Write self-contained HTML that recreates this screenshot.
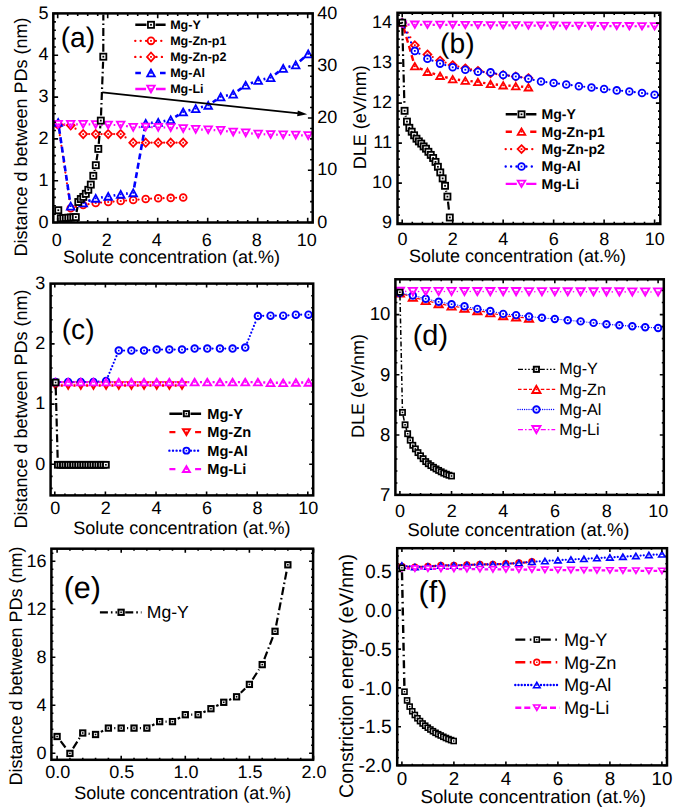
<!DOCTYPE html>
<html><head><meta charset="utf-8"><style>
html,body{margin:0;padding:0;background:#fff;}
svg{display:block;}
text{font-family:"Liberation Sans", sans-serif;text-rendering:geometricPrecision;}
</style></head><body>
<svg width="685" height="808" viewBox="0 0 685 808">
<rect width="685" height="808" fill="#fff"/>
<clipPath id="ca"><rect x="54.3" y="14.4" width="257.4" height="207.1"/></clipPath>
<path d="M59 129.84L69.9 202.86M75.93 206.86L77.97 206.34M88.53 204.15L90.37 203.85M101.08 202.57L102.82 202.43M113.58 201.57L115.32 201.43M126.08 200.57L127.82 200.43M138.58 199.57L140.32 199.43M151.09 198.7L152.81 198.6M163.6 198.13L165.3 198.07M176.1 197.73L177.8 197.67" fill="none" stroke="#ff0000" stroke-width="2.2" stroke-dasharray="0 5.4" stroke-linecap="round"/>
<circle cx="58.2" cy="124.5" r="3.4" fill="#fff" stroke="#ff0000" stroke-width="1.8"/>
<rect x="57.3" y="123.6" width="1.8" height="1.8" fill="#ff0000"/>
<circle cx="70.7" cy="208.2" r="3.4" fill="#fff" stroke="#ff0000" stroke-width="1.8"/>
<rect x="69.8" y="207.3" width="1.8" height="1.8" fill="#ff0000"/>
<circle cx="83.2" cy="205" r="3.4" fill="#fff" stroke="#ff0000" stroke-width="1.8"/>
<rect x="82.3" y="204.1" width="1.8" height="1.8" fill="#ff0000"/>
<circle cx="95.7" cy="203" r="3.4" fill="#fff" stroke="#ff0000" stroke-width="1.8"/>
<rect x="94.8" y="202.1" width="1.8" height="1.8" fill="#ff0000"/>
<circle cx="108.2" cy="202" r="3.4" fill="#fff" stroke="#ff0000" stroke-width="1.8"/>
<rect x="107.3" y="201.1" width="1.8" height="1.8" fill="#ff0000"/>
<circle cx="120.7" cy="201" r="3.4" fill="#fff" stroke="#ff0000" stroke-width="1.8"/>
<rect x="119.8" y="200.1" width="1.8" height="1.8" fill="#ff0000"/>
<circle cx="133.2" cy="200" r="3.4" fill="#fff" stroke="#ff0000" stroke-width="1.8"/>
<rect x="132.3" y="199.1" width="1.8" height="1.8" fill="#ff0000"/>
<circle cx="145.7" cy="199" r="3.4" fill="#fff" stroke="#ff0000" stroke-width="1.8"/>
<rect x="144.8" y="198.1" width="1.8" height="1.8" fill="#ff0000"/>
<circle cx="158.2" cy="198.3" r="3.4" fill="#fff" stroke="#ff0000" stroke-width="1.8"/>
<rect x="157.3" y="197.4" width="1.8" height="1.8" fill="#ff0000"/>
<circle cx="170.7" cy="197.9" r="3.4" fill="#fff" stroke="#ff0000" stroke-width="1.8"/>
<rect x="169.8" y="197" width="1.8" height="1.8" fill="#ff0000"/>
<circle cx="183.2" cy="197.5" r="3.4" fill="#fff" stroke="#ff0000" stroke-width="1.8"/>
<rect x="182.3" y="196.6" width="1.8" height="1.8" fill="#ff0000"/>
<path d="M64.09 124.88L64.81 124.92M75.52 128.7L78.38 130.7M89.1 134.1L89.8 134.1M101.6 134.1L102.3 134.1M114.1 134.1L114.8 134.1M125.56 137.44L128.34 139.36M139.1 142.7L139.8 142.7M151.6 142.7L152.3 142.7M164.1 142.7L164.8 142.7M176.6 142.7L177.3 142.7" fill="none" stroke="#ff0000" stroke-width="2.2" stroke-dasharray="0 5.4" stroke-linecap="round"/>
<polygon points="58.2,120.4 62.1,124.5 58.2,128.6 54.3,124.5" fill="#fff" stroke="#ff0000" stroke-width="1.8"/>
<rect x="57.3" y="123.6" width="1.8" height="1.8" fill="#ff0000"/>
<polygon points="70.7,121.2 74.6,125.3 70.7,129.4 66.8,125.3" fill="#fff" stroke="#ff0000" stroke-width="1.8"/>
<rect x="69.8" y="124.4" width="1.8" height="1.8" fill="#ff0000"/>
<polygon points="83.2,130 87.1,134.1 83.2,138.2 79.3,134.1" fill="#fff" stroke="#ff0000" stroke-width="1.8"/>
<rect x="82.3" y="133.2" width="1.8" height="1.8" fill="#ff0000"/>
<polygon points="95.7,130 99.6,134.1 95.7,138.2 91.8,134.1" fill="#fff" stroke="#ff0000" stroke-width="1.8"/>
<rect x="94.8" y="133.2" width="1.8" height="1.8" fill="#ff0000"/>
<polygon points="108.2,130 112.1,134.1 108.2,138.2 104.3,134.1" fill="#fff" stroke="#ff0000" stroke-width="1.8"/>
<rect x="107.3" y="133.2" width="1.8" height="1.8" fill="#ff0000"/>
<polygon points="120.7,130 124.6,134.1 120.7,138.2 116.8,134.1" fill="#fff" stroke="#ff0000" stroke-width="1.8"/>
<rect x="119.8" y="133.2" width="1.8" height="1.8" fill="#ff0000"/>
<polygon points="133.2,138.6 137.1,142.7 133.2,146.8 129.3,142.7" fill="#fff" stroke="#ff0000" stroke-width="1.8"/>
<rect x="132.3" y="141.8" width="1.8" height="1.8" fill="#ff0000"/>
<polygon points="145.7,138.6 149.6,142.7 145.7,146.8 141.8,142.7" fill="#fff" stroke="#ff0000" stroke-width="1.8"/>
<rect x="144.8" y="141.8" width="1.8" height="1.8" fill="#ff0000"/>
<polygon points="158.2,138.6 162.1,142.7 158.2,146.8 154.3,142.7" fill="#fff" stroke="#ff0000" stroke-width="1.8"/>
<rect x="157.3" y="141.8" width="1.8" height="1.8" fill="#ff0000"/>
<polygon points="170.7,138.6 174.6,142.7 170.7,146.8 166.8,142.7" fill="#fff" stroke="#ff0000" stroke-width="1.8"/>
<rect x="169.8" y="141.8" width="1.8" height="1.8" fill="#ff0000"/>
<polygon points="183.2,138.6 187.1,142.7 183.2,146.8 179.3,142.7" fill="#fff" stroke="#ff0000" stroke-width="1.8"/>
<rect x="182.3" y="141.8" width="1.8" height="1.8" fill="#ff0000"/>
<path d="M59.01 127.89L69.89 200.71M75.99 204.79L77.91 204.31M88.3 201.08L90.6 200.22M101.08 197.44L102.82 197.16M113.58 195.44L115.32 195.16M126.11 193.65L127.79 193.45M134.16 187.44L144.74 128.66M151.13 122.87L152.77 122.73M163.54 121.23L165.36 120.87M175.32 116.91L178.58 114.89M188.46 110.57L190.44 110.03M200.97 107.21L202.93 106.69M212.72 102.26L216.18 99.94M226.02 95.71L227.88 95.29M237.64 90.94L241.26 88.36M250.8 83.28L253.1 82.42M263.52 79.31L265.38 78.89M275.07 74.45L278.83 71.65M288.45 66.93L290.45 66.37M299.79 61.3L304.11 57.5" fill="none" stroke="#0000ff" stroke-width="2.6" stroke-dasharray="6 3.5" stroke-linecap="butt"/>
<polygon points="58.2,119.05 54.4,125.95 62,125.95" fill="#fff" stroke="#0000ff" stroke-width="1.8"/>
<rect x="57.3" y="121.6" width="1.8" height="1.8" fill="#0000ff"/>
<polygon points="70.7,202.65 66.9,209.55 74.5,209.55" fill="#fff" stroke="#0000ff" stroke-width="1.8"/>
<rect x="69.8" y="205.2" width="1.8" height="1.8" fill="#0000ff"/>
<polygon points="83.2,199.55 79.4,206.45 87,206.45" fill="#fff" stroke="#0000ff" stroke-width="1.8"/>
<rect x="82.3" y="202.1" width="1.8" height="1.8" fill="#0000ff"/>
<polygon points="95.7,194.85 91.9,201.75 99.5,201.75" fill="#fff" stroke="#0000ff" stroke-width="1.8"/>
<rect x="94.8" y="197.4" width="1.8" height="1.8" fill="#0000ff"/>
<polygon points="108.2,192.85 104.4,199.75 112,199.75" fill="#fff" stroke="#0000ff" stroke-width="1.8"/>
<rect x="107.3" y="195.4" width="1.8" height="1.8" fill="#0000ff"/>
<polygon points="120.7,190.85 116.9,197.75 124.5,197.75" fill="#fff" stroke="#0000ff" stroke-width="1.8"/>
<rect x="119.8" y="193.4" width="1.8" height="1.8" fill="#0000ff"/>
<polygon points="133.2,189.35 129.4,196.25 137,196.25" fill="#fff" stroke="#0000ff" stroke-width="1.8"/>
<rect x="132.3" y="191.9" width="1.8" height="1.8" fill="#0000ff"/>
<polygon points="145.7,119.85 141.9,126.75 149.5,126.75" fill="#fff" stroke="#0000ff" stroke-width="1.8"/>
<rect x="144.8" y="122.4" width="1.8" height="1.8" fill="#0000ff"/>
<polygon points="158.2,118.85 154.4,125.75 162,125.75" fill="#fff" stroke="#0000ff" stroke-width="1.8"/>
<rect x="157.3" y="121.4" width="1.8" height="1.8" fill="#0000ff"/>
<polygon points="170.7,116.35 166.9,123.25 174.5,123.25" fill="#fff" stroke="#0000ff" stroke-width="1.8"/>
<rect x="169.8" y="118.9" width="1.8" height="1.8" fill="#0000ff"/>
<polygon points="183.2,108.55 179.4,115.45 187,115.45" fill="#fff" stroke="#0000ff" stroke-width="1.8"/>
<rect x="182.3" y="111.1" width="1.8" height="1.8" fill="#0000ff"/>
<polygon points="195.7,105.15 191.9,112.05 199.5,112.05" fill="#fff" stroke="#0000ff" stroke-width="1.8"/>
<rect x="194.8" y="107.7" width="1.8" height="1.8" fill="#0000ff"/>
<polygon points="208.2,101.85 204.4,108.75 212,108.75" fill="#fff" stroke="#0000ff" stroke-width="1.8"/>
<rect x="207.3" y="104.4" width="1.8" height="1.8" fill="#0000ff"/>
<polygon points="220.7,93.45 216.9,100.35 224.5,100.35" fill="#fff" stroke="#0000ff" stroke-width="1.8"/>
<rect x="219.8" y="96" width="1.8" height="1.8" fill="#0000ff"/>
<polygon points="233.2,90.65 229.4,97.55 237,97.55" fill="#fff" stroke="#0000ff" stroke-width="1.8"/>
<rect x="232.3" y="93.2" width="1.8" height="1.8" fill="#0000ff"/>
<polygon points="245.7,81.75 241.9,88.65 249.5,88.65" fill="#fff" stroke="#0000ff" stroke-width="1.8"/>
<rect x="244.8" y="84.3" width="1.8" height="1.8" fill="#0000ff"/>
<polygon points="258.2,77.05 254.4,83.95 262,83.95" fill="#fff" stroke="#0000ff" stroke-width="1.8"/>
<rect x="257.3" y="79.6" width="1.8" height="1.8" fill="#0000ff"/>
<polygon points="270.7,74.25 266.9,81.15 274.5,81.15" fill="#fff" stroke="#0000ff" stroke-width="1.8"/>
<rect x="269.8" y="76.8" width="1.8" height="1.8" fill="#0000ff"/>
<polygon points="283.2,64.95 279.4,71.85 287,71.85" fill="#fff" stroke="#0000ff" stroke-width="1.8"/>
<rect x="282.3" y="67.5" width="1.8" height="1.8" fill="#0000ff"/>
<polygon points="295.7,61.45 291.9,68.35 299.5,68.35" fill="#fff" stroke="#0000ff" stroke-width="1.8"/>
<rect x="294.8" y="64" width="1.8" height="1.8" fill="#0000ff"/>
<polygon points="308.2,50.45 304.4,57.35 312,57.35" fill="#fff" stroke="#0000ff" stroke-width="1.8"/>
<rect x="307.3" y="53" width="1.8" height="1.8" fill="#0000ff"/>
<path d="M63.65 124.3L65.25 124.3M76.15 124.3L77.75 124.3M88.65 124.39L90.25 124.41M101.15 124.72L102.75 124.78M113.65 125L115.25 125M126.05 126.03L127.85 126.37M138.65 127.23L140.25 127.17M151.15 127.17L152.75 127.23M163.65 127.49L165.25 127.51M176.13 128.03L177.77 128.17M188.64 128.95L190.26 129.05M201.15 129.57L202.75 129.63M213.64 130.06L215.26 130.14M226.1 131.13L227.8 131.37M238.64 132.45L240.26 132.55M251.13 133.42L252.77 133.58M263.65 134.27L265.25 134.33M276.15 134.67L277.75 134.73M288.65 134.99L290.25 135.01M301.15 135.32L302.75 135.38" fill="none" stroke="#ff00ff" stroke-width="2.2" stroke-linecap="butt"/>
<polygon points="58.2,127.75 54.4,120.85 62,120.85" fill="#fff" stroke="#ff00ff" stroke-width="1.8"/>
<rect x="57.3" y="123.4" width="1.8" height="1.8" fill="#ff00ff"/>
<polygon points="70.7,127.75 66.9,120.85 74.5,120.85" fill="#fff" stroke="#ff00ff" stroke-width="1.8"/>
<rect x="69.8" y="123.4" width="1.8" height="1.8" fill="#ff00ff"/>
<polygon points="83.2,127.75 79.4,120.85 87,120.85" fill="#fff" stroke="#ff00ff" stroke-width="1.8"/>
<rect x="82.3" y="123.4" width="1.8" height="1.8" fill="#ff00ff"/>
<polygon points="95.7,127.95 91.9,121.05 99.5,121.05" fill="#fff" stroke="#ff00ff" stroke-width="1.8"/>
<rect x="94.8" y="123.6" width="1.8" height="1.8" fill="#ff00ff"/>
<polygon points="108.2,128.45 104.4,121.55 112,121.55" fill="#fff" stroke="#ff00ff" stroke-width="1.8"/>
<rect x="107.3" y="124.1" width="1.8" height="1.8" fill="#ff00ff"/>
<polygon points="120.7,128.45 116.9,121.55 124.5,121.55" fill="#fff" stroke="#ff00ff" stroke-width="1.8"/>
<rect x="119.8" y="124.1" width="1.8" height="1.8" fill="#ff00ff"/>
<polygon points="133.2,130.85 129.4,123.95 137,123.95" fill="#fff" stroke="#ff00ff" stroke-width="1.8"/>
<rect x="132.3" y="126.5" width="1.8" height="1.8" fill="#ff00ff"/>
<polygon points="145.7,130.45 141.9,123.55 149.5,123.55" fill="#fff" stroke="#ff00ff" stroke-width="1.8"/>
<rect x="144.8" y="126.1" width="1.8" height="1.8" fill="#ff00ff"/>
<polygon points="158.2,130.85 154.4,123.95 162,123.95" fill="#fff" stroke="#ff00ff" stroke-width="1.8"/>
<rect x="157.3" y="126.5" width="1.8" height="1.8" fill="#ff00ff"/>
<polygon points="170.7,131.05 166.9,124.15 174.5,124.15" fill="#fff" stroke="#ff00ff" stroke-width="1.8"/>
<rect x="169.8" y="126.7" width="1.8" height="1.8" fill="#ff00ff"/>
<polygon points="183.2,132.05 179.4,125.15 187,125.15" fill="#fff" stroke="#ff00ff" stroke-width="1.8"/>
<rect x="182.3" y="127.7" width="1.8" height="1.8" fill="#ff00ff"/>
<polygon points="195.7,132.85 191.9,125.95 199.5,125.95" fill="#fff" stroke="#ff00ff" stroke-width="1.8"/>
<rect x="194.8" y="128.5" width="1.8" height="1.8" fill="#ff00ff"/>
<polygon points="208.2,133.25 204.4,126.35 212,126.35" fill="#fff" stroke="#ff00ff" stroke-width="1.8"/>
<rect x="207.3" y="128.9" width="1.8" height="1.8" fill="#ff00ff"/>
<polygon points="220.7,133.85 216.9,126.95 224.5,126.95" fill="#fff" stroke="#ff00ff" stroke-width="1.8"/>
<rect x="219.8" y="129.5" width="1.8" height="1.8" fill="#ff00ff"/>
<polygon points="233.2,135.55 229.4,128.65 237,128.65" fill="#fff" stroke="#ff00ff" stroke-width="1.8"/>
<rect x="232.3" y="131.2" width="1.8" height="1.8" fill="#ff00ff"/>
<polygon points="245.7,136.35 241.9,129.45 249.5,129.45" fill="#fff" stroke="#ff00ff" stroke-width="1.8"/>
<rect x="244.8" y="132" width="1.8" height="1.8" fill="#ff00ff"/>
<polygon points="258.2,137.55 254.4,130.65 262,130.65" fill="#fff" stroke="#ff00ff" stroke-width="1.8"/>
<rect x="257.3" y="133.2" width="1.8" height="1.8" fill="#ff00ff"/>
<polygon points="270.7,137.95 266.9,131.05 274.5,131.05" fill="#fff" stroke="#ff00ff" stroke-width="1.8"/>
<rect x="269.8" y="133.6" width="1.8" height="1.8" fill="#ff00ff"/>
<polygon points="283.2,138.35 279.4,131.45 287,131.45" fill="#fff" stroke="#ff00ff" stroke-width="1.8"/>
<rect x="282.3" y="134" width="1.8" height="1.8" fill="#ff00ff"/>
<polygon points="295.7,138.55 291.9,131.65 299.5,131.65" fill="#fff" stroke="#ff00ff" stroke-width="1.8"/>
<rect x="294.8" y="134.2" width="1.8" height="1.8" fill="#ff00ff"/>
<polygon points="308.2,139.05 304.4,132.15 312,132.15" fill="#fff" stroke="#ff00ff" stroke-width="1.8"/>
<rect x="307.3" y="134.7" width="1.8" height="1.8" fill="#ff00ff"/>
<path d="M76.62 212.12L77.48 206.98M94.46 170.88L94.64 170.12M96.57 160.21L97.53 153.89M98.74 143.87L100.36 125.63M101 115.55L103.1 61.75M103.3 51.65L105.8 -2994.95" fill="none" stroke="#000" stroke-width="2.2" stroke-dasharray="8 3 1.6 3" stroke-linecap="butt" clip-path="url(#ca)"/>
<rect x="55.25" y="207.15" width="6.1" height="6.1" fill="#fff" stroke="#000" stroke-width="1.8"/>
<rect x="57.4" y="209.3" width="1.8" height="1.8" fill="#000"/>
<rect x="57.75" y="215.25" width="6.1" height="6.1" fill="#fff" stroke="#000" stroke-width="1.8"/>
<rect x="59.9" y="217.4" width="1.8" height="1.8" fill="#000"/>
<rect x="60.25" y="215.05" width="6.1" height="6.1" fill="#fff" stroke="#000" stroke-width="1.8"/>
<rect x="62.4" y="217.2" width="1.8" height="1.8" fill="#000"/>
<rect x="62.75" y="214.85" width="6.1" height="6.1" fill="#fff" stroke="#000" stroke-width="1.8"/>
<rect x="64.9" y="217" width="1.8" height="1.8" fill="#000"/>
<rect x="65.25" y="214.65" width="6.1" height="6.1" fill="#fff" stroke="#000" stroke-width="1.8"/>
<rect x="67.4" y="216.8" width="1.8" height="1.8" fill="#000"/>
<rect x="67.75" y="214.45" width="6.1" height="6.1" fill="#fff" stroke="#000" stroke-width="1.8"/>
<rect x="69.9" y="216.6" width="1.8" height="1.8" fill="#000"/>
<rect x="70.25" y="214.25" width="6.1" height="6.1" fill="#fff" stroke="#000" stroke-width="1.8"/>
<rect x="72.4" y="216.4" width="1.8" height="1.8" fill="#000"/>
<rect x="72.75" y="214.05" width="6.1" height="6.1" fill="#fff" stroke="#000" stroke-width="1.8"/>
<rect x="74.9" y="216.2" width="1.8" height="1.8" fill="#000"/>
<rect x="75.25" y="198.95" width="6.1" height="6.1" fill="#fff" stroke="#000" stroke-width="1.8"/>
<rect x="77.4" y="201.1" width="1.8" height="1.8" fill="#000"/>
<rect x="77.75" y="195.95" width="6.1" height="6.1" fill="#fff" stroke="#000" stroke-width="1.8"/>
<rect x="79.9" y="198.1" width="1.8" height="1.8" fill="#000"/>
<rect x="80.25" y="193.85" width="6.1" height="6.1" fill="#fff" stroke="#000" stroke-width="1.8"/>
<rect x="82.4" y="196" width="1.8" height="1.8" fill="#000"/>
<rect x="82.75" y="190.75" width="6.1" height="6.1" fill="#fff" stroke="#000" stroke-width="1.8"/>
<rect x="84.9" y="192.9" width="1.8" height="1.8" fill="#000"/>
<rect x="85.25" y="186.75" width="6.1" height="6.1" fill="#fff" stroke="#000" stroke-width="1.8"/>
<rect x="87.4" y="188.9" width="1.8" height="1.8" fill="#000"/>
<rect x="87.75" y="181.55" width="6.1" height="6.1" fill="#fff" stroke="#000" stroke-width="1.8"/>
<rect x="89.9" y="183.7" width="1.8" height="1.8" fill="#000"/>
<rect x="90.25" y="172.75" width="6.1" height="6.1" fill="#fff" stroke="#000" stroke-width="1.8"/>
<rect x="92.4" y="174.9" width="1.8" height="1.8" fill="#000"/>
<rect x="92.75" y="162.15" width="6.1" height="6.1" fill="#fff" stroke="#000" stroke-width="1.8"/>
<rect x="94.9" y="164.3" width="1.8" height="1.8" fill="#000"/>
<rect x="95.25" y="145.85" width="6.1" height="6.1" fill="#fff" stroke="#000" stroke-width="1.8"/>
<rect x="97.4" y="148" width="1.8" height="1.8" fill="#000"/>
<rect x="97.75" y="117.55" width="6.1" height="6.1" fill="#fff" stroke="#000" stroke-width="1.8"/>
<rect x="99.9" y="119.7" width="1.8" height="1.8" fill="#000"/>
<rect x="100.25" y="53.65" width="6.1" height="6.1" fill="#fff" stroke="#000" stroke-width="1.8"/>
<rect x="102.4" y="55.8" width="1.8" height="1.8" fill="#000"/>
<line x1="102.3" y1="92.3" x2="299" y2="113.4" stroke="#000" stroke-width="1.7"/>
<polygon points="307.2,114.3 297.8,110.4 297.2,116.2" fill="#000"/>
<rect x="53.3" y="13.4" width="259.4" height="209.1" fill="none" stroke="#000" stroke-width="2.5"/>
<path d="M57.7 222.5v-4.8M57.7 13.4v4.8M107.7 222.5v-4.8M107.7 13.4v4.8M157.7 222.5v-4.8M157.7 13.4v4.8M207.7 222.5v-4.8M207.7 13.4v4.8M257.7 222.5v-4.8M257.7 13.4v4.8M307.7 222.5v-4.8M307.7 13.4v4.8M67.7 222.5v-2.6M67.7 13.4v2.6M77.7 222.5v-2.6M77.7 13.4v2.6M87.7 222.5v-2.6M87.7 13.4v2.6M97.7 222.5v-2.6M97.7 13.4v2.6M117.7 222.5v-2.6M117.7 13.4v2.6M127.7 222.5v-2.6M127.7 13.4v2.6M137.7 222.5v-2.6M137.7 13.4v2.6M147.7 222.5v-2.6M147.7 13.4v2.6M167.7 222.5v-2.6M167.7 13.4v2.6M177.7 222.5v-2.6M177.7 13.4v2.6M187.7 222.5v-2.6M187.7 13.4v2.6M197.7 222.5v-2.6M197.7 13.4v2.6M217.7 222.5v-2.6M217.7 13.4v2.6M227.7 222.5v-2.6M227.7 13.4v2.6M237.7 222.5v-2.6M237.7 13.4v2.6M247.7 222.5v-2.6M247.7 13.4v2.6M267.7 222.5v-2.6M267.7 13.4v2.6M277.7 222.5v-2.6M277.7 13.4v2.6M287.7 222.5v-2.6M287.7 13.4v2.6M297.7 222.5v-2.6M297.7 13.4v2.6M53.3 222.5h4.8M53.3 180.7h4.8M53.3 138.9h4.8M53.3 97.1h4.8M53.3 55.3h4.8M53.3 13.5h4.8M53.3 214.14h2.6M53.3 205.78h2.6M53.3 197.42h2.6M53.3 189.06h2.6M53.3 172.34h2.6M53.3 163.98h2.6M53.3 155.62h2.6M53.3 147.26h2.6M53.3 130.54h2.6M53.3 122.18h2.6M53.3 113.82h2.6M53.3 105.46h2.6M53.3 88.74h2.6M53.3 80.38h2.6M53.3 72.02h2.6M53.3 63.66h2.6M53.3 46.94h2.6M53.3 38.58h2.6M53.3 30.22h2.6M53.3 21.86h2.6M312.7 222.5h-4.8M312.7 170.25h-4.8M312.7 118h-4.8M312.7 65.75h-4.8M312.7 13.5h-4.8M312.7 212.05h-2.6M312.7 201.6h-2.6M312.7 191.15h-2.6M312.7 180.7h-2.6M312.7 159.8h-2.6M312.7 149.35h-2.6M312.7 138.9h-2.6M312.7 128.45h-2.6M312.7 107.55h-2.6M312.7 97.1h-2.6M312.7 86.65h-2.6M312.7 76.2h-2.6M312.7 55.3h-2.6M312.7 44.85h-2.6M312.7 34.4h-2.6M312.7 23.95h-2.6" stroke="#000" stroke-width="1.6" fill="none"/>
<text x="56.7" y="245.7" font-size="18" text-anchor="middle" fill="#000">0</text>
<text x="106.7" y="245.7" font-size="18" text-anchor="middle" fill="#000">2</text>
<text x="156.7" y="245.7" font-size="18" text-anchor="middle" fill="#000">4</text>
<text x="206.7" y="245.7" font-size="18" text-anchor="middle" fill="#000">6</text>
<text x="256.7" y="245.7" font-size="18" text-anchor="middle" fill="#000">8</text>
<text x="306.7" y="245.7" font-size="18" text-anchor="middle" fill="#000">10</text>
<text x="48.5" y="227.6" font-size="18" text-anchor="end" fill="#000">0</text>
<text x="48.5" y="185.8" font-size="18" text-anchor="end" fill="#000">1</text>
<text x="48.5" y="144" font-size="18" text-anchor="end" fill="#000">2</text>
<text x="48.5" y="102.2" font-size="18" text-anchor="end" fill="#000">3</text>
<text x="48.5" y="60.4" font-size="18" text-anchor="end" fill="#000">4</text>
<text x="48.5" y="18.6" font-size="18" text-anchor="end" fill="#000">5</text>
<text x="317.3" y="227.6" font-size="18" text-anchor="start" fill="#000">0</text>
<text x="317.3" y="175.35" font-size="18" text-anchor="start" fill="#000">10</text>
<text x="317.3" y="123.1" font-size="18" text-anchor="start" fill="#000">20</text>
<text x="317.3" y="70.85" font-size="18" text-anchor="start" fill="#000">30</text>
<text x="317.3" y="18.6" font-size="18" text-anchor="start" fill="#000">40</text>
<text x="26.7" y="137" font-size="18" text-anchor="middle" fill="#000" transform="rotate(-90 26.7 137)">Distance d between PDs (nm)</text>
<text x="171.5" y="263.4" font-size="18" text-anchor="middle" fill="#000">Solute concentration (at.%)</text>
<text x="60.7" y="47.2" font-size="28.2" text-anchor="start" fill="#000">(a)</text>
<path d="M135.3 24.8H146.45M155.55 24.8H165.6" fill="none" stroke="#000" stroke-width="2.4" stroke-linecap="butt"/>
<rect x="147.95" y="21.75" width="6.1" height="6.1" fill="#fff" stroke="#000" stroke-width="1.8"/>
<rect x="150.1" y="23.9" width="1.8" height="1.8" fill="#000"/>
<text x="170.2" y="29.1" font-size="12.5" text-anchor="start" font-weight="bold" fill="#000">Mg-Y</text>
<path d="M135.3 40.85H146.1M155.9 40.85H165.6" fill="none" stroke="#ff0000" stroke-width="2.4" stroke-dasharray="0 5.4" stroke-linecap="round"/>
<circle cx="151" cy="40.85" r="3.4" fill="#fff" stroke="#ff0000" stroke-width="1.8"/>
<rect x="150.1" y="39.95" width="1.8" height="1.8" fill="#ff0000"/>
<text x="170.2" y="45.15" font-size="12.5" text-anchor="start" font-weight="bold" fill="#000">Mg-Zn-p1</text>
<path d="M135.3 56.9H145.5M156.5 56.9H165.6" fill="none" stroke="#ff0000" stroke-width="2.4" stroke-dasharray="0 5.4" stroke-linecap="round"/>
<polygon points="151,52.5 155,56.9 151,61.3 147,56.9" fill="#fff" stroke="#ff0000" stroke-width="1.8"/>
<rect x="150.1" y="56" width="1.8" height="1.8" fill="#ff0000"/>
<text x="170.2" y="61.2" font-size="12.5" text-anchor="start" font-weight="bold" fill="#000">Mg-Zn-p2</text>
<path d="M135.3 72.95h5.6M160 72.95H165.6" fill="none" stroke="#0000ff" stroke-width="2.4"/>
<polygon points="151,69.5 147.2,76.4 154.8,76.4" fill="#fff" stroke="#0000ff" stroke-width="1.8"/>
<rect x="150.1" y="72.05" width="1.8" height="1.8" fill="#0000ff"/>
<text x="170.2" y="77.25" font-size="12.5" text-anchor="start" font-weight="bold" fill="#000">Mg-Al</text>
<path d="M135.3 89H146.05M155.95 89H165.6" fill="none" stroke="#ff00ff" stroke-width="2.4" stroke-linecap="butt"/>
<polygon points="151,92.45 147.2,85.55 154.8,85.55" fill="#fff" stroke="#ff00ff" stroke-width="1.8"/>
<rect x="150.1" y="88.1" width="1.8" height="1.8" fill="#ff00ff"/>
<text x="170.2" y="93.3" font-size="12.5" text-anchor="start" font-weight="bold" fill="#000">Mg-Li</text>
<path d="M403.65 27.69L413.37 61.21M419.57 68.31L422.69 69.69M432.4 73.37L435.1 74.23M445.09 77.12L447.65 77.78M457.84 79.71L460.14 79.99M470.47 81.17L472.75 81.43M483.06 82.81L485.4 83.19M495.71 84.53L497.99 84.77M508.35 85.63L510.59 85.77M520.96 86.59L523.22 86.81" fill="none" stroke="#ff0000" stroke-width="2.4" stroke-dasharray="6 3.5" stroke-linecap="butt"/>
<polygon points="402.2,19.5 398.4,25.9 406,25.9" fill="#fff" stroke="#ff0000" stroke-width="1.8"/>
<rect x="401.3" y="21.8" width="1.8" height="1.8" fill="#ff0000"/>
<polygon points="414.82,63 411.02,69.4 418.62,69.4" fill="#fff" stroke="#ff0000" stroke-width="1.8"/>
<rect x="413.92" y="65.3" width="1.8" height="1.8" fill="#ff0000"/>
<polygon points="427.44,68.6 423.64,75 431.24,75" fill="#fff" stroke="#ff0000" stroke-width="1.8"/>
<rect x="426.54" y="70.9" width="1.8" height="1.8" fill="#ff0000"/>
<polygon points="440.06,72.6 436.26,79 443.86,79" fill="#fff" stroke="#ff0000" stroke-width="1.8"/>
<rect x="439.16" y="74.9" width="1.8" height="1.8" fill="#ff0000"/>
<polygon points="452.68,75.9 448.88,82.3 456.48,82.3" fill="#fff" stroke="#ff0000" stroke-width="1.8"/>
<rect x="451.78" y="78.2" width="1.8" height="1.8" fill="#ff0000"/>
<polygon points="465.3,77.4 461.5,83.8 469.1,83.8" fill="#fff" stroke="#ff0000" stroke-width="1.8"/>
<rect x="464.4" y="79.7" width="1.8" height="1.8" fill="#ff0000"/>
<polygon points="477.92,78.8 474.12,85.2 481.72,85.2" fill="#fff" stroke="#ff0000" stroke-width="1.8"/>
<rect x="477.02" y="81.1" width="1.8" height="1.8" fill="#ff0000"/>
<polygon points="490.54,80.8 486.74,87.2 494.34,87.2" fill="#fff" stroke="#ff0000" stroke-width="1.8"/>
<rect x="489.64" y="83.1" width="1.8" height="1.8" fill="#ff0000"/>
<polygon points="503.16,82.1 499.36,88.5 506.96,88.5" fill="#fff" stroke="#ff0000" stroke-width="1.8"/>
<rect x="502.26" y="84.4" width="1.8" height="1.8" fill="#ff0000"/>
<polygon points="515.78,82.9 511.98,89.3 519.58,89.3" fill="#fff" stroke="#ff0000" stroke-width="1.8"/>
<rect x="514.88" y="85.2" width="1.8" height="1.8" fill="#ff0000"/>
<polygon points="528.4,84.1 524.6,90.5 532.2,90.5" fill="#fff" stroke="#ff0000" stroke-width="1.8"/>
<rect x="527.5" y="86.4" width="1.8" height="1.8" fill="#ff0000"/>
<path d="M405.09 27.85L411.93 40.05M419.59 48.68L422.67 50.92M432.74 57L434.76 58M445.62 62.58L447.12 63.12M458.4 66.55L459.58 66.85M471.09 69.45L472.13 69.65M483.71 71.95L484.75 72.15M496.39 74.09L497.31 74.21M509.02 75.7L509.92 75.8M521.63 77.24L522.55 77.36" fill="none" stroke="#ff0000" stroke-width="2.2" stroke-dasharray="0 5.4" stroke-linecap="round"/>
<polygon points="402.2,18.8 406.1,22.7 402.2,26.6 398.3,22.7" fill="#fff" stroke="#ff0000" stroke-width="1.8"/>
<rect x="401.3" y="21.8" width="1.8" height="1.8" fill="#ff0000"/>
<polygon points="414.82,41.3 418.72,45.2 414.82,49.1 410.92,45.2" fill="#fff" stroke="#ff0000" stroke-width="1.8"/>
<rect x="413.92" y="44.3" width="1.8" height="1.8" fill="#ff0000"/>
<polygon points="427.44,50.5 431.34,54.4 427.44,58.3 423.54,54.4" fill="#fff" stroke="#ff0000" stroke-width="1.8"/>
<rect x="426.54" y="53.5" width="1.8" height="1.8" fill="#ff0000"/>
<polygon points="440.06,56.7 443.96,60.6 440.06,64.5 436.16,60.6" fill="#fff" stroke="#ff0000" stroke-width="1.8"/>
<rect x="439.16" y="59.7" width="1.8" height="1.8" fill="#ff0000"/>
<polygon points="452.68,61.2 456.58,65.1 452.68,69 448.78,65.1" fill="#fff" stroke="#ff0000" stroke-width="1.8"/>
<rect x="451.78" y="64.2" width="1.8" height="1.8" fill="#ff0000"/>
<polygon points="465.3,64.4 469.2,68.3 465.3,72.2 461.4,68.3" fill="#fff" stroke="#ff0000" stroke-width="1.8"/>
<rect x="464.4" y="67.4" width="1.8" height="1.8" fill="#ff0000"/>
<polygon points="477.92,66.9 481.82,70.8 477.92,74.7 474.02,70.8" fill="#fff" stroke="#ff0000" stroke-width="1.8"/>
<rect x="477.02" y="69.9" width="1.8" height="1.8" fill="#ff0000"/>
<polygon points="490.54,69.4 494.44,73.3 490.54,77.2 486.64,73.3" fill="#fff" stroke="#ff0000" stroke-width="1.8"/>
<rect x="489.64" y="72.4" width="1.8" height="1.8" fill="#ff0000"/>
<polygon points="503.16,71.1 507.06,75 503.16,78.9 499.26,75" fill="#fff" stroke="#ff0000" stroke-width="1.8"/>
<rect x="502.26" y="74.1" width="1.8" height="1.8" fill="#ff0000"/>
<polygon points="515.78,72.6 519.68,76.5 515.78,80.4 511.88,76.5" fill="#fff" stroke="#ff0000" stroke-width="1.8"/>
<rect x="514.88" y="75.6" width="1.8" height="1.8" fill="#ff0000"/>
<polygon points="528.4,74.2 532.3,78.1 528.4,82 524.5,78.1" fill="#fff" stroke="#ff0000" stroke-width="1.8"/>
<rect x="527.5" y="77.2" width="1.8" height="1.8" fill="#ff0000"/>
<path d="M404.41 27.63L412.61 45.97M419.41 53.74L422.85 55.86M432.47 60.65L435.03 61.65M445.24 65.12L447.5 65.78M457.98 68.31L460 68.69M470.63 70.59L472.59 70.91M483.31 72.06L485.15 72.14M495.83 73.49L497.87 73.91M508.52 75.64L510.42 75.86M521.09 77.47L523.09 77.83M533.68 79.93L535.74 80.37M546.38 82.14L548.28 82.36M559 83.64L560.9 83.86M571.61 85.22L573.53 85.48M584.25 86.75L586.13 86.95M596.86 88.14L598.76 88.36M609.49 89.6L611.37 89.8M622.12 90.87L623.98 91.03M634.72 92.14L636.62 92.36M647.33 93.72L649.25 93.98" fill="none" stroke="#0000ff" stroke-width="2.2" stroke-dasharray="0 5.4" stroke-linecap="round"/>
<circle cx="402.2" cy="22.7" r="3.4" fill="#fff" stroke="#0000ff" stroke-width="1.8"/>
<rect x="401.3" y="21.8" width="1.8" height="1.8" fill="#0000ff"/>
<circle cx="414.82" cy="50.9" r="3.4" fill="#fff" stroke="#0000ff" stroke-width="1.8"/>
<rect x="413.92" y="50" width="1.8" height="1.8" fill="#0000ff"/>
<circle cx="427.44" cy="58.7" r="3.4" fill="#fff" stroke="#0000ff" stroke-width="1.8"/>
<rect x="426.54" y="57.8" width="1.8" height="1.8" fill="#0000ff"/>
<circle cx="440.06" cy="63.6" r="3.4" fill="#fff" stroke="#0000ff" stroke-width="1.8"/>
<rect x="439.16" y="62.7" width="1.8" height="1.8" fill="#0000ff"/>
<circle cx="452.68" cy="67.3" r="3.4" fill="#fff" stroke="#0000ff" stroke-width="1.8"/>
<rect x="451.78" y="66.4" width="1.8" height="1.8" fill="#0000ff"/>
<circle cx="465.3" cy="69.7" r="3.4" fill="#fff" stroke="#0000ff" stroke-width="1.8"/>
<rect x="464.4" y="68.8" width="1.8" height="1.8" fill="#0000ff"/>
<circle cx="477.92" cy="71.8" r="3.4" fill="#fff" stroke="#0000ff" stroke-width="1.8"/>
<rect x="477.02" y="70.9" width="1.8" height="1.8" fill="#0000ff"/>
<circle cx="490.54" cy="72.4" r="3.4" fill="#fff" stroke="#0000ff" stroke-width="1.8"/>
<rect x="489.64" y="71.5" width="1.8" height="1.8" fill="#0000ff"/>
<circle cx="503.16" cy="75" r="3.4" fill="#fff" stroke="#0000ff" stroke-width="1.8"/>
<rect x="502.26" y="74.1" width="1.8" height="1.8" fill="#0000ff"/>
<circle cx="515.78" cy="76.5" r="3.4" fill="#fff" stroke="#0000ff" stroke-width="1.8"/>
<rect x="514.88" y="75.6" width="1.8" height="1.8" fill="#0000ff"/>
<circle cx="528.4" cy="78.8" r="3.4" fill="#fff" stroke="#0000ff" stroke-width="1.8"/>
<rect x="527.5" y="77.9" width="1.8" height="1.8" fill="#0000ff"/>
<circle cx="541.02" cy="81.5" r="3.4" fill="#fff" stroke="#0000ff" stroke-width="1.8"/>
<rect x="540.12" y="80.6" width="1.8" height="1.8" fill="#0000ff"/>
<circle cx="553.64" cy="83" r="3.4" fill="#fff" stroke="#0000ff" stroke-width="1.8"/>
<rect x="552.74" y="82.1" width="1.8" height="1.8" fill="#0000ff"/>
<circle cx="566.26" cy="84.5" r="3.4" fill="#fff" stroke="#0000ff" stroke-width="1.8"/>
<rect x="565.36" y="83.6" width="1.8" height="1.8" fill="#0000ff"/>
<circle cx="578.88" cy="86.2" r="3.4" fill="#fff" stroke="#0000ff" stroke-width="1.8"/>
<rect x="577.98" y="85.3" width="1.8" height="1.8" fill="#0000ff"/>
<circle cx="591.5" cy="87.5" r="3.4" fill="#fff" stroke="#0000ff" stroke-width="1.8"/>
<rect x="590.6" y="86.6" width="1.8" height="1.8" fill="#0000ff"/>
<circle cx="604.12" cy="89" r="3.4" fill="#fff" stroke="#0000ff" stroke-width="1.8"/>
<rect x="603.22" y="88.1" width="1.8" height="1.8" fill="#0000ff"/>
<circle cx="616.74" cy="90.4" r="3.4" fill="#fff" stroke="#0000ff" stroke-width="1.8"/>
<rect x="615.84" y="89.5" width="1.8" height="1.8" fill="#0000ff"/>
<circle cx="629.36" cy="91.5" r="3.4" fill="#fff" stroke="#0000ff" stroke-width="1.8"/>
<rect x="628.46" y="90.6" width="1.8" height="1.8" fill="#0000ff"/>
<circle cx="641.98" cy="93" r="3.4" fill="#fff" stroke="#0000ff" stroke-width="1.8"/>
<rect x="641.08" y="92.1" width="1.8" height="1.8" fill="#0000ff"/>
<circle cx="654.6" cy="94.7" r="3.4" fill="#fff" stroke="#0000ff" stroke-width="1.8"/>
<rect x="653.7" y="93.8" width="1.8" height="1.8" fill="#0000ff"/>
<path d="M407.4 24.64L409.62 24.65M420.02 24.73L422.24 24.74M432.64 24.82L434.86 24.83M445.26 24.91L447.48 24.92M457.88 25L460.1 25.01M470.5 25.09L472.72 25.1M483.12 25.18L485.34 25.19M495.74 25.27L497.96 25.28M508.36 25.36L510.58 25.37M520.98 25.45L523.2 25.46M533.6 25.54L535.82 25.55M546.22 25.63L548.44 25.64M558.84 25.72L561.06 25.73M571.46 25.81L573.68 25.82M584.08 25.9L586.3 25.91M596.7 25.99L598.92 26M609.32 26.08L611.54 26.09M621.94 26.17L624.16 26.18M634.56 26.26L636.78 26.27M647.18 26.35L649.4 26.36" fill="none" stroke="#ff00ff" stroke-width="2.2" stroke-linecap="butt"/>
<polygon points="402.2,27.8 398.4,21.4 406,21.4" fill="#fff" stroke="#ff00ff" stroke-width="1.8"/>
<rect x="401.3" y="23.7" width="1.8" height="1.8" fill="#ff00ff"/>
<polygon points="414.82,27.89 411.02,21.49 418.62,21.49" fill="#fff" stroke="#ff00ff" stroke-width="1.8"/>
<rect x="413.92" y="23.79" width="1.8" height="1.8" fill="#ff00ff"/>
<polygon points="427.44,27.98 423.64,21.58 431.24,21.58" fill="#fff" stroke="#ff00ff" stroke-width="1.8"/>
<rect x="426.54" y="23.88" width="1.8" height="1.8" fill="#ff00ff"/>
<polygon points="440.06,28.07 436.26,21.67 443.86,21.67" fill="#fff" stroke="#ff00ff" stroke-width="1.8"/>
<rect x="439.16" y="23.97" width="1.8" height="1.8" fill="#ff00ff"/>
<polygon points="452.68,28.16 448.88,21.76 456.48,21.76" fill="#fff" stroke="#ff00ff" stroke-width="1.8"/>
<rect x="451.78" y="24.06" width="1.8" height="1.8" fill="#ff00ff"/>
<polygon points="465.3,28.25 461.5,21.85 469.1,21.85" fill="#fff" stroke="#ff00ff" stroke-width="1.8"/>
<rect x="464.4" y="24.15" width="1.8" height="1.8" fill="#ff00ff"/>
<polygon points="477.92,28.34 474.12,21.94 481.72,21.94" fill="#fff" stroke="#ff00ff" stroke-width="1.8"/>
<rect x="477.02" y="24.24" width="1.8" height="1.8" fill="#ff00ff"/>
<polygon points="490.54,28.43 486.74,22.03 494.34,22.03" fill="#fff" stroke="#ff00ff" stroke-width="1.8"/>
<rect x="489.64" y="24.33" width="1.8" height="1.8" fill="#ff00ff"/>
<polygon points="503.16,28.52 499.36,22.12 506.96,22.12" fill="#fff" stroke="#ff00ff" stroke-width="1.8"/>
<rect x="502.26" y="24.42" width="1.8" height="1.8" fill="#ff00ff"/>
<polygon points="515.78,28.61 511.98,22.21 519.58,22.21" fill="#fff" stroke="#ff00ff" stroke-width="1.8"/>
<rect x="514.88" y="24.51" width="1.8" height="1.8" fill="#ff00ff"/>
<polygon points="528.4,28.7 524.6,22.3 532.2,22.3" fill="#fff" stroke="#ff00ff" stroke-width="1.8"/>
<rect x="527.5" y="24.6" width="1.8" height="1.8" fill="#ff00ff"/>
<polygon points="541.02,28.79 537.22,22.39 544.82,22.39" fill="#fff" stroke="#ff00ff" stroke-width="1.8"/>
<rect x="540.12" y="24.69" width="1.8" height="1.8" fill="#ff00ff"/>
<polygon points="553.64,28.88 549.84,22.48 557.44,22.48" fill="#fff" stroke="#ff00ff" stroke-width="1.8"/>
<rect x="552.74" y="24.78" width="1.8" height="1.8" fill="#ff00ff"/>
<polygon points="566.26,28.97 562.46,22.57 570.06,22.57" fill="#fff" stroke="#ff00ff" stroke-width="1.8"/>
<rect x="565.36" y="24.87" width="1.8" height="1.8" fill="#ff00ff"/>
<polygon points="578.88,29.06 575.08,22.66 582.68,22.66" fill="#fff" stroke="#ff00ff" stroke-width="1.8"/>
<rect x="577.98" y="24.96" width="1.8" height="1.8" fill="#ff00ff"/>
<polygon points="591.5,29.15 587.7,22.75 595.3,22.75" fill="#fff" stroke="#ff00ff" stroke-width="1.8"/>
<rect x="590.6" y="25.05" width="1.8" height="1.8" fill="#ff00ff"/>
<polygon points="604.12,29.24 600.32,22.84 607.92,22.84" fill="#fff" stroke="#ff00ff" stroke-width="1.8"/>
<rect x="603.22" y="25.14" width="1.8" height="1.8" fill="#ff00ff"/>
<polygon points="616.74,29.33 612.94,22.93 620.54,22.93" fill="#fff" stroke="#ff00ff" stroke-width="1.8"/>
<rect x="615.84" y="25.23" width="1.8" height="1.8" fill="#ff00ff"/>
<polygon points="629.36,29.42 625.56,23.02 633.16,23.02" fill="#fff" stroke="#ff00ff" stroke-width="1.8"/>
<rect x="628.46" y="25.32" width="1.8" height="1.8" fill="#ff00ff"/>
<polygon points="641.98,29.51 638.18,23.11 645.78,23.11" fill="#fff" stroke="#ff00ff" stroke-width="1.8"/>
<rect x="641.08" y="25.41" width="1.8" height="1.8" fill="#ff00ff"/>
<polygon points="654.6,29.6 650.8,23.2 658.4,23.2" fill="#fff" stroke="#ff00ff" stroke-width="1.8"/>
<rect x="653.7" y="25.5" width="1.8" height="1.8" fill="#ff00ff"/>
<path d="M402.34 27.75L404.44 105.75M405.67 115.73L405.87 116.67M446.13 190.73L446.33 191.67M447.99 201.62L449.23 212.48" fill="none" stroke="#000" stroke-width="2.2" stroke-dasharray="8 3 1.6 3" stroke-linecap="butt"/>
<rect x="399.15" y="19.65" width="6.1" height="6.1" fill="#fff" stroke="#000" stroke-width="1.8"/>
<rect x="401.3" y="21.8" width="1.8" height="1.8" fill="#000"/>
<rect x="401.53" y="107.75" width="6.1" height="6.1" fill="#fff" stroke="#000" stroke-width="1.8"/>
<rect x="403.68" y="109.9" width="1.8" height="1.8" fill="#000"/>
<rect x="403.91" y="118.55" width="6.1" height="6.1" fill="#fff" stroke="#000" stroke-width="1.8"/>
<rect x="406.06" y="120.7" width="1.8" height="1.8" fill="#000"/>
<rect x="406.29" y="124.75" width="6.1" height="6.1" fill="#fff" stroke="#000" stroke-width="1.8"/>
<rect x="408.44" y="126.9" width="1.8" height="1.8" fill="#000"/>
<rect x="408.67" y="128.65" width="6.1" height="6.1" fill="#fff" stroke="#000" stroke-width="1.8"/>
<rect x="410.82" y="130.8" width="1.8" height="1.8" fill="#000"/>
<rect x="411.05" y="132.25" width="6.1" height="6.1" fill="#fff" stroke="#000" stroke-width="1.8"/>
<rect x="413.2" y="134.4" width="1.8" height="1.8" fill="#000"/>
<rect x="413.43" y="135.65" width="6.1" height="6.1" fill="#fff" stroke="#000" stroke-width="1.8"/>
<rect x="415.58" y="137.8" width="1.8" height="1.8" fill="#000"/>
<rect x="415.81" y="138.35" width="6.1" height="6.1" fill="#fff" stroke="#000" stroke-width="1.8"/>
<rect x="417.96" y="140.5" width="1.8" height="1.8" fill="#000"/>
<rect x="418.19" y="140.55" width="6.1" height="6.1" fill="#fff" stroke="#000" stroke-width="1.8"/>
<rect x="420.34" y="142.7" width="1.8" height="1.8" fill="#000"/>
<rect x="420.57" y="143.35" width="6.1" height="6.1" fill="#fff" stroke="#000" stroke-width="1.8"/>
<rect x="422.72" y="145.5" width="1.8" height="1.8" fill="#000"/>
<rect x="422.95" y="145.65" width="6.1" height="6.1" fill="#fff" stroke="#000" stroke-width="1.8"/>
<rect x="425.1" y="147.8" width="1.8" height="1.8" fill="#000"/>
<rect x="425.33" y="148.75" width="6.1" height="6.1" fill="#fff" stroke="#000" stroke-width="1.8"/>
<rect x="427.48" y="150.9" width="1.8" height="1.8" fill="#000"/>
<rect x="427.71" y="151.85" width="6.1" height="6.1" fill="#fff" stroke="#000" stroke-width="1.8"/>
<rect x="429.86" y="154" width="1.8" height="1.8" fill="#000"/>
<rect x="430.09" y="154.95" width="6.1" height="6.1" fill="#fff" stroke="#000" stroke-width="1.8"/>
<rect x="432.24" y="157.1" width="1.8" height="1.8" fill="#000"/>
<rect x="432.47" y="158.85" width="6.1" height="6.1" fill="#fff" stroke="#000" stroke-width="1.8"/>
<rect x="434.62" y="161" width="1.8" height="1.8" fill="#000"/>
<rect x="434.85" y="163.75" width="6.1" height="6.1" fill="#fff" stroke="#000" stroke-width="1.8"/>
<rect x="437" y="165.9" width="1.8" height="1.8" fill="#000"/>
<rect x="437.23" y="169.35" width="6.1" height="6.1" fill="#fff" stroke="#000" stroke-width="1.8"/>
<rect x="439.38" y="171.5" width="1.8" height="1.8" fill="#000"/>
<rect x="439.61" y="175.35" width="6.1" height="6.1" fill="#fff" stroke="#000" stroke-width="1.8"/>
<rect x="441.76" y="177.5" width="1.8" height="1.8" fill="#000"/>
<rect x="441.99" y="182.75" width="6.1" height="6.1" fill="#fff" stroke="#000" stroke-width="1.8"/>
<rect x="444.14" y="184.9" width="1.8" height="1.8" fill="#000"/>
<rect x="444.37" y="193.55" width="6.1" height="6.1" fill="#fff" stroke="#000" stroke-width="1.8"/>
<rect x="446.52" y="195.7" width="1.8" height="1.8" fill="#000"/>
<rect x="446.75" y="214.45" width="6.1" height="6.1" fill="#fff" stroke="#000" stroke-width="1.8"/>
<rect x="448.9" y="216.6" width="1.8" height="1.8" fill="#000"/>
<rect x="397.5" y="12.8" width="262.8" height="211.2" fill="none" stroke="#000" stroke-width="2.5"/>
<path d="M402.2 224v-4.4M402.2 12.8v4.4M452.68 224v-4.4M452.68 12.8v4.4M503.16 224v-4.4M503.16 12.8v4.4M553.64 224v-4.4M553.64 12.8v4.4M604.12 224v-4.4M604.12 12.8v4.4M654.6 224v-4.4M654.6 12.8v4.4M412.3 224v-2.3M412.3 12.8v2.3M422.39 224v-2.3M422.39 12.8v2.3M432.49 224v-2.3M432.49 12.8v2.3M442.58 224v-2.3M442.58 12.8v2.3M462.78 224v-2.3M462.78 12.8v2.3M472.87 224v-2.3M472.87 12.8v2.3M482.97 224v-2.3M482.97 12.8v2.3M493.06 224v-2.3M493.06 12.8v2.3M513.26 224v-2.3M513.26 12.8v2.3M523.35 224v-2.3M523.35 12.8v2.3M533.45 224v-2.3M533.45 12.8v2.3M543.54 224v-2.3M543.54 12.8v2.3M563.74 224v-2.3M563.74 12.8v2.3M573.83 224v-2.3M573.83 12.8v2.3M583.93 224v-2.3M583.93 12.8v2.3M594.02 224v-2.3M594.02 12.8v2.3M614.22 224v-2.3M614.22 12.8v2.3M624.31 224v-2.3M624.31 12.8v2.3M634.41 224v-2.3M634.41 12.8v2.3M644.5 224v-2.3M644.5 12.8v2.3M397.5 223.1h4.4M397.5 183.1h4.4M397.5 143.1h4.4M397.5 103.1h4.4M397.5 63.1h4.4M397.5 23.1h4.4M397.5 215.1h2.3M397.5 207.1h2.3M397.5 199.1h2.3M397.5 191.1h2.3M397.5 175.1h2.3M397.5 167.1h2.3M397.5 159.1h2.3M397.5 151.1h2.3M397.5 135.1h2.3M397.5 127.1h2.3M397.5 119.1h2.3M397.5 111.1h2.3M397.5 95.1h2.3M397.5 87.1h2.3M397.5 79.1h2.3M397.5 71.1h2.3M397.5 55.1h2.3M397.5 47.1h2.3M397.5 39.1h2.3M397.5 31.1h2.3M397.5 15.1h2.3M660.3 223.1h-4.4M660.3 183.1h-4.4M660.3 143.1h-4.4M660.3 103.1h-4.4M660.3 63.1h-4.4M660.3 23.1h-4.4M660.3 215.1h-2.3M660.3 207.1h-2.3M660.3 199.1h-2.3M660.3 191.1h-2.3M660.3 175.1h-2.3M660.3 167.1h-2.3M660.3 159.1h-2.3M660.3 151.1h-2.3M660.3 135.1h-2.3M660.3 127.1h-2.3M660.3 119.1h-2.3M660.3 111.1h-2.3M660.3 95.1h-2.3M660.3 87.1h-2.3M660.3 79.1h-2.3M660.3 71.1h-2.3M660.3 55.1h-2.3M660.3 47.1h-2.3M660.3 39.1h-2.3M660.3 31.1h-2.3M660.3 15.1h-2.3" stroke="#000" stroke-width="1.6" fill="none"/>
<text x="402.4" y="244.5" font-size="18" text-anchor="middle" fill="#000">0</text>
<text x="452.88" y="244.5" font-size="18" text-anchor="middle" fill="#000">2</text>
<text x="503.36" y="244.5" font-size="18" text-anchor="middle" fill="#000">4</text>
<text x="553.84" y="244.5" font-size="18" text-anchor="middle" fill="#000">6</text>
<text x="604.32" y="244.5" font-size="18" text-anchor="middle" fill="#000">8</text>
<text x="654.8" y="244.5" font-size="18" text-anchor="middle" fill="#000">10</text>
<text x="392" y="228.1" font-size="18" text-anchor="end" fill="#000">9</text>
<text x="392" y="188.1" font-size="18" text-anchor="end" fill="#000">10</text>
<text x="392" y="148.1" font-size="18" text-anchor="end" fill="#000">11</text>
<text x="392" y="108.1" font-size="18" text-anchor="end" fill="#000">12</text>
<text x="392" y="68.1" font-size="18" text-anchor="end" fill="#000">13</text>
<text x="392" y="28.1" font-size="18" text-anchor="end" fill="#000">14</text>
<text x="366.3" y="117.3" font-size="18" text-anchor="middle" fill="#000" transform="rotate(-90 366.3 117.3)">DLE (eV/nm)</text>
<text x="517.5" y="262" font-size="18" text-anchor="middle" fill="#000">Solute concentration (at.%)</text>
<text x="440.1" y="52.8" font-size="28.2" text-anchor="start" fill="#000">(b)</text>
<path d="M505.7 114.3H516.95M526.05 114.3H536.4" fill="none" stroke="#000" stroke-width="2.4" stroke-linecap="butt"/>
<rect x="518.45" y="111.25" width="6.1" height="6.1" fill="#fff" stroke="#000" stroke-width="1.8"/>
<rect x="520.6" y="113.4" width="1.8" height="1.8" fill="#000"/>
<text x="541.5" y="119.2" font-size="14.1" text-anchor="start" font-weight="bold" fill="#000">Mg-Y</text>
<path d="M505.7 131.7h6.2M530.2 131.7H536.4" fill="none" stroke="#ff0000" stroke-width="2.4"/>
<polygon points="521.5,128.5 517.7,134.9 525.3,134.9" fill="#fff" stroke="#ff0000" stroke-width="1.8"/>
<rect x="520.6" y="130.8" width="1.8" height="1.8" fill="#ff0000"/>
<text x="541.5" y="136.6" font-size="14.1" text-anchor="start" font-weight="bold" fill="#000">Mg-Zn-p1</text>
<path d="M505.7 149.1H516.1M526.9 149.1H536.4" fill="none" stroke="#ff0000" stroke-width="2.4" stroke-dasharray="0 5.4" stroke-linecap="round"/>
<polygon points="521.5,145.2 525.4,149.1 521.5,153 517.6,149.1" fill="#fff" stroke="#ff0000" stroke-width="1.8"/>
<rect x="520.6" y="148.2" width="1.8" height="1.8" fill="#ff0000"/>
<text x="541.5" y="154" font-size="14.1" text-anchor="start" font-weight="bold" fill="#000">Mg-Zn-p2</text>
<path d="M505.7 166.5H516.6M526.4 166.5H536.4" fill="none" stroke="#0000ff" stroke-width="2.4" stroke-dasharray="0 5.4" stroke-linecap="round"/>
<circle cx="521.5" cy="166.5" r="3.4" fill="#fff" stroke="#0000ff" stroke-width="1.8"/>
<rect x="520.6" y="165.6" width="1.8" height="1.8" fill="#0000ff"/>
<text x="541.5" y="171.4" font-size="14.1" text-anchor="start" font-weight="bold" fill="#000">Mg-Al</text>
<path d="M505.7 183.9H516.8M526.2 183.9H536.4" fill="none" stroke="#ff00ff" stroke-width="2.4" stroke-linecap="butt"/>
<polygon points="521.5,187.1 517.7,180.7 525.3,180.7" fill="#fff" stroke="#ff00ff" stroke-width="1.8"/>
<rect x="520.6" y="183" width="1.8" height="1.8" fill="#ff00ff"/>
<text x="541.5" y="188.8" font-size="14.1" text-anchor="start" font-weight="bold" fill="#000">Mg-Li</text>
<path d="M60.8 385.5L62.85 385.5M73.45 385.5L75.5 385.5M86.1 385.5L88.15 385.5M98.75 385.5L100.8 385.5M111.4 385.5L113.45 385.5M124.05 385.5L126.1 385.5M136.7 385.5L138.75 385.5M149.35 385.5L151.4 385.5M162 385.5L164.05 385.5M174.65 385.5L176.7 385.5" fill="none" stroke="#ff0000" stroke-width="2.4" stroke-dasharray="6 3.5" stroke-linecap="butt"/>
<polygon points="55.5,388.8 51.6,382.2 59.4,382.2" fill="#fff" stroke="#ff0000" stroke-width="1.9"/>
<rect x="54.7" y="384.7" width="1.6" height="1.6" fill="#ff0000"/>
<polygon points="68.15,388.8 64.25,382.2 72.05,382.2" fill="#fff" stroke="#ff0000" stroke-width="1.9"/>
<rect x="67.35" y="384.7" width="1.6" height="1.6" fill="#ff0000"/>
<polygon points="80.8,388.8 76.9,382.2 84.7,382.2" fill="#fff" stroke="#ff0000" stroke-width="1.9"/>
<rect x="80" y="384.7" width="1.6" height="1.6" fill="#ff0000"/>
<polygon points="93.45,388.8 89.55,382.2 97.35,382.2" fill="#fff" stroke="#ff0000" stroke-width="1.9"/>
<rect x="92.65" y="384.7" width="1.6" height="1.6" fill="#ff0000"/>
<polygon points="106.1,388.8 102.2,382.2 110,382.2" fill="#fff" stroke="#ff0000" stroke-width="1.9"/>
<rect x="105.3" y="384.7" width="1.6" height="1.6" fill="#ff0000"/>
<polygon points="118.75,388.8 114.85,382.2 122.65,382.2" fill="#fff" stroke="#ff0000" stroke-width="1.9"/>
<rect x="117.95" y="384.7" width="1.6" height="1.6" fill="#ff0000"/>
<polygon points="131.4,388.8 127.5,382.2 135.3,382.2" fill="#fff" stroke="#ff0000" stroke-width="1.9"/>
<rect x="130.6" y="384.7" width="1.6" height="1.6" fill="#ff0000"/>
<polygon points="144.05,388.8 140.15,382.2 147.95,382.2" fill="#fff" stroke="#ff0000" stroke-width="1.9"/>
<rect x="143.25" y="384.7" width="1.6" height="1.6" fill="#ff0000"/>
<polygon points="156.7,388.8 152.8,382.2 160.6,382.2" fill="#fff" stroke="#ff0000" stroke-width="1.9"/>
<rect x="155.9" y="384.7" width="1.6" height="1.6" fill="#ff0000"/>
<polygon points="169.35,388.8 165.45,382.2 173.25,382.2" fill="#fff" stroke="#ff0000" stroke-width="1.9"/>
<rect x="168.55" y="384.7" width="1.6" height="1.6" fill="#ff0000"/>
<polygon points="182,388.8 178.1,382.2 185.9,382.2" fill="#fff" stroke="#ff0000" stroke-width="1.9"/>
<rect x="181.2" y="384.7" width="1.6" height="1.6" fill="#ff0000"/>
<path d="M60.8 382L62.85 382M73.45 382L75.5 382M86.1 382L88.15 382M98.73 381.58L100.82 381.42M108.14 376.11L116.71 355.49M124.05 350.6L126.1 350.6M136.7 350.6L138.75 350.6M149.33 350.18L151.42 350.02M162 349.6L164.05 349.6M174.65 349.6L176.7 349.6M187.28 349.18L189.37 349.02M199.95 348.6L202 348.6M212.6 348.6L214.65 348.6M225.25 348.6L227.3 348.6M237.88 348.18L239.97 348.02M247.22 342.68L255.93 320.92M263.2 315.87L265.25 315.83M275.85 315.7L277.9 315.7M288.48 315.28L290.57 315.12M301.15 314.7L303.2 314.7" fill="none" stroke="#0000ff" stroke-width="2.2" stroke-dasharray="0 3.6" stroke-linecap="round"/>
<circle cx="55.5" cy="382" r="3.3" fill="#fff" stroke="#0000ff" stroke-width="1.9"/>
<rect x="54.7" y="381.2" width="1.6" height="1.6" fill="#0000ff"/>
<circle cx="68.15" cy="382" r="3.3" fill="#fff" stroke="#0000ff" stroke-width="1.9"/>
<rect x="67.35" y="381.2" width="1.6" height="1.6" fill="#0000ff"/>
<circle cx="80.8" cy="382" r="3.3" fill="#fff" stroke="#0000ff" stroke-width="1.9"/>
<rect x="80" y="381.2" width="1.6" height="1.6" fill="#0000ff"/>
<circle cx="93.45" cy="382" r="3.3" fill="#fff" stroke="#0000ff" stroke-width="1.9"/>
<rect x="92.65" y="381.2" width="1.6" height="1.6" fill="#0000ff"/>
<circle cx="106.1" cy="381" r="3.3" fill="#fff" stroke="#0000ff" stroke-width="1.9"/>
<rect x="105.3" y="380.2" width="1.6" height="1.6" fill="#0000ff"/>
<circle cx="118.75" cy="350.6" r="3.3" fill="#fff" stroke="#0000ff" stroke-width="1.9"/>
<rect x="117.95" y="349.8" width="1.6" height="1.6" fill="#0000ff"/>
<circle cx="131.4" cy="350.6" r="3.3" fill="#fff" stroke="#0000ff" stroke-width="1.9"/>
<rect x="130.6" y="349.8" width="1.6" height="1.6" fill="#0000ff"/>
<circle cx="144.05" cy="350.6" r="3.3" fill="#fff" stroke="#0000ff" stroke-width="1.9"/>
<rect x="143.25" y="349.8" width="1.6" height="1.6" fill="#0000ff"/>
<circle cx="156.7" cy="349.6" r="3.3" fill="#fff" stroke="#0000ff" stroke-width="1.9"/>
<rect x="155.9" y="348.8" width="1.6" height="1.6" fill="#0000ff"/>
<circle cx="169.35" cy="349.6" r="3.3" fill="#fff" stroke="#0000ff" stroke-width="1.9"/>
<rect x="168.55" y="348.8" width="1.6" height="1.6" fill="#0000ff"/>
<circle cx="182" cy="349.6" r="3.3" fill="#fff" stroke="#0000ff" stroke-width="1.9"/>
<rect x="181.2" y="348.8" width="1.6" height="1.6" fill="#0000ff"/>
<circle cx="194.65" cy="348.6" r="3.3" fill="#fff" stroke="#0000ff" stroke-width="1.9"/>
<rect x="193.85" y="347.8" width="1.6" height="1.6" fill="#0000ff"/>
<circle cx="207.3" cy="348.6" r="3.3" fill="#fff" stroke="#0000ff" stroke-width="1.9"/>
<rect x="206.5" y="347.8" width="1.6" height="1.6" fill="#0000ff"/>
<circle cx="219.95" cy="348.6" r="3.3" fill="#fff" stroke="#0000ff" stroke-width="1.9"/>
<rect x="219.15" y="347.8" width="1.6" height="1.6" fill="#0000ff"/>
<circle cx="232.6" cy="348.6" r="3.3" fill="#fff" stroke="#0000ff" stroke-width="1.9"/>
<rect x="231.8" y="347.8" width="1.6" height="1.6" fill="#0000ff"/>
<circle cx="245.25" cy="347.6" r="3.3" fill="#fff" stroke="#0000ff" stroke-width="1.9"/>
<rect x="244.45" y="346.8" width="1.6" height="1.6" fill="#0000ff"/>
<circle cx="257.9" cy="316" r="3.3" fill="#fff" stroke="#0000ff" stroke-width="1.9"/>
<rect x="257.1" y="315.2" width="1.6" height="1.6" fill="#0000ff"/>
<circle cx="270.55" cy="315.7" r="3.3" fill="#fff" stroke="#0000ff" stroke-width="1.9"/>
<rect x="269.75" y="314.9" width="1.6" height="1.6" fill="#0000ff"/>
<circle cx="283.2" cy="315.7" r="3.3" fill="#fff" stroke="#0000ff" stroke-width="1.9"/>
<rect x="282.4" y="314.9" width="1.6" height="1.6" fill="#0000ff"/>
<circle cx="295.85" cy="314.7" r="3.3" fill="#fff" stroke="#0000ff" stroke-width="1.9"/>
<rect x="295.05" y="313.9" width="1.6" height="1.6" fill="#0000ff"/>
<circle cx="308.5" cy="314.7" r="3.3" fill="#fff" stroke="#0000ff" stroke-width="1.9"/>
<rect x="307.7" y="313.9" width="1.6" height="1.6" fill="#0000ff"/>
<path d="M60.8 382.1L62.85 382.1M73.45 382.1L75.5 382.1M86.1 382.1L88.15 382.1M98.75 382.1L100.8 382.1M111.4 382.1L113.45 382.1M124.05 382.1L126.1 382.1M136.7 382.1L138.75 382.1M149.35 382.1L151.4 382.1M162 382.1L164.05 382.1M174.65 382.1L176.7 382.1M187.3 382.1L189.35 382.1M199.95 382.1L202 382.1M212.6 382.1L214.65 382.1M225.25 382.1L227.3 382.1M237.9 382.1L239.95 382.1M250.55 382.1L252.6 382.1M263.19 382.39L265.26 382.51M275.85 382.8L277.9 382.8M288.5 382.67L290.55 382.63M301.15 382.5L303.2 382.5" fill="none" stroke="#ff00ff" stroke-width="2.4" stroke-dasharray="6 3.5" stroke-linecap="butt"/>
<polygon points="55.5,378.8 51.6,385.4 59.4,385.4" fill="#fff" stroke="#ff00ff" stroke-width="1.9"/>
<rect x="54.7" y="381.3" width="1.6" height="1.6" fill="#ff00ff"/>
<polygon points="68.15,378.8 64.25,385.4 72.05,385.4" fill="#fff" stroke="#ff00ff" stroke-width="1.9"/>
<rect x="67.35" y="381.3" width="1.6" height="1.6" fill="#ff00ff"/>
<polygon points="80.8,378.8 76.9,385.4 84.7,385.4" fill="#fff" stroke="#ff00ff" stroke-width="1.9"/>
<rect x="80" y="381.3" width="1.6" height="1.6" fill="#ff00ff"/>
<polygon points="93.45,378.8 89.55,385.4 97.35,385.4" fill="#fff" stroke="#ff00ff" stroke-width="1.9"/>
<rect x="92.65" y="381.3" width="1.6" height="1.6" fill="#ff00ff"/>
<polygon points="106.1,378.8 102.2,385.4 110,385.4" fill="#fff" stroke="#ff00ff" stroke-width="1.9"/>
<rect x="105.3" y="381.3" width="1.6" height="1.6" fill="#ff00ff"/>
<polygon points="118.75,378.8 114.85,385.4 122.65,385.4" fill="#fff" stroke="#ff00ff" stroke-width="1.9"/>
<rect x="117.95" y="381.3" width="1.6" height="1.6" fill="#ff00ff"/>
<polygon points="131.4,378.8 127.5,385.4 135.3,385.4" fill="#fff" stroke="#ff00ff" stroke-width="1.9"/>
<rect x="130.6" y="381.3" width="1.6" height="1.6" fill="#ff00ff"/>
<polygon points="144.05,378.8 140.15,385.4 147.95,385.4" fill="#fff" stroke="#ff00ff" stroke-width="1.9"/>
<rect x="143.25" y="381.3" width="1.6" height="1.6" fill="#ff00ff"/>
<polygon points="156.7,378.8 152.8,385.4 160.6,385.4" fill="#fff" stroke="#ff00ff" stroke-width="1.9"/>
<rect x="155.9" y="381.3" width="1.6" height="1.6" fill="#ff00ff"/>
<polygon points="169.35,378.8 165.45,385.4 173.25,385.4" fill="#fff" stroke="#ff00ff" stroke-width="1.9"/>
<rect x="168.55" y="381.3" width="1.6" height="1.6" fill="#ff00ff"/>
<polygon points="182,378.8 178.1,385.4 185.9,385.4" fill="#fff" stroke="#ff00ff" stroke-width="1.9"/>
<rect x="181.2" y="381.3" width="1.6" height="1.6" fill="#ff00ff"/>
<polygon points="194.65,378.8 190.75,385.4 198.55,385.4" fill="#fff" stroke="#ff00ff" stroke-width="1.9"/>
<rect x="193.85" y="381.3" width="1.6" height="1.6" fill="#ff00ff"/>
<polygon points="207.3,378.8 203.4,385.4 211.2,385.4" fill="#fff" stroke="#ff00ff" stroke-width="1.9"/>
<rect x="206.5" y="381.3" width="1.6" height="1.6" fill="#ff00ff"/>
<polygon points="219.95,378.8 216.05,385.4 223.85,385.4" fill="#fff" stroke="#ff00ff" stroke-width="1.9"/>
<rect x="219.15" y="381.3" width="1.6" height="1.6" fill="#ff00ff"/>
<polygon points="232.6,378.8 228.7,385.4 236.5,385.4" fill="#fff" stroke="#ff00ff" stroke-width="1.9"/>
<rect x="231.8" y="381.3" width="1.6" height="1.6" fill="#ff00ff"/>
<polygon points="245.25,378.8 241.35,385.4 249.15,385.4" fill="#fff" stroke="#ff00ff" stroke-width="1.9"/>
<rect x="244.45" y="381.3" width="1.6" height="1.6" fill="#ff00ff"/>
<polygon points="257.9,378.8 254,385.4 261.8,385.4" fill="#fff" stroke="#ff00ff" stroke-width="1.9"/>
<rect x="257.1" y="381.3" width="1.6" height="1.6" fill="#ff00ff"/>
<polygon points="270.55,379.5 266.65,386.1 274.45,386.1" fill="#fff" stroke="#ff00ff" stroke-width="1.9"/>
<rect x="269.75" y="382" width="1.6" height="1.6" fill="#ff00ff"/>
<polygon points="283.2,379.5 279.3,386.1 287.1,386.1" fill="#fff" stroke="#ff00ff" stroke-width="1.9"/>
<rect x="282.4" y="382" width="1.6" height="1.6" fill="#ff00ff"/>
<polygon points="295.85,379.2 291.95,385.8 299.75,385.8" fill="#fff" stroke="#ff00ff" stroke-width="1.9"/>
<rect x="295.05" y="381.7" width="1.6" height="1.6" fill="#ff00ff"/>
<polygon points="308.5,379.2 304.6,385.8 312.4,385.8" fill="#fff" stroke="#ff00ff" stroke-width="1.9"/>
<rect x="307.7" y="381.7" width="1.6" height="1.6" fill="#ff00ff"/>
<path d="M55.73 387.4L57.7 459.9" fill="none" stroke="#000" stroke-width="2.2" stroke-dasharray="8 3 1.6 3" stroke-linecap="butt"/>
<rect x="52.7" y="379.6" width="5.8" height="5.8" fill="#fff" stroke="#000" stroke-width="1.9"/>
<rect x="54.8" y="381.7" width="1.6" height="1.6" fill="#000"/>
<rect x="54.93" y="461.9" width="5.8" height="5.8" fill="#fff" stroke="#000" stroke-width="1.9"/>
<rect x="57.03" y="464" width="1.6" height="1.6" fill="#000"/>
<rect x="57.46" y="461.9" width="5.8" height="5.8" fill="#fff" stroke="#000" stroke-width="1.9"/>
<rect x="59.56" y="464" width="1.6" height="1.6" fill="#000"/>
<rect x="59.99" y="461.9" width="5.8" height="5.8" fill="#fff" stroke="#000" stroke-width="1.9"/>
<rect x="62.09" y="464" width="1.6" height="1.6" fill="#000"/>
<rect x="62.52" y="461.9" width="5.8" height="5.8" fill="#fff" stroke="#000" stroke-width="1.9"/>
<rect x="64.62" y="464" width="1.6" height="1.6" fill="#000"/>
<rect x="65.05" y="461.9" width="5.8" height="5.8" fill="#fff" stroke="#000" stroke-width="1.9"/>
<rect x="67.15" y="464" width="1.6" height="1.6" fill="#000"/>
<rect x="67.58" y="461.9" width="5.8" height="5.8" fill="#fff" stroke="#000" stroke-width="1.9"/>
<rect x="69.68" y="464" width="1.6" height="1.6" fill="#000"/>
<rect x="70.11" y="461.9" width="5.8" height="5.8" fill="#fff" stroke="#000" stroke-width="1.9"/>
<rect x="72.21" y="464" width="1.6" height="1.6" fill="#000"/>
<rect x="72.64" y="461.9" width="5.8" height="5.8" fill="#fff" stroke="#000" stroke-width="1.9"/>
<rect x="74.74" y="464" width="1.6" height="1.6" fill="#000"/>
<rect x="75.17" y="461.9" width="5.8" height="5.8" fill="#fff" stroke="#000" stroke-width="1.9"/>
<rect x="77.27" y="464" width="1.6" height="1.6" fill="#000"/>
<rect x="77.7" y="461.9" width="5.8" height="5.8" fill="#fff" stroke="#000" stroke-width="1.9"/>
<rect x="79.8" y="464" width="1.6" height="1.6" fill="#000"/>
<rect x="80.23" y="461.9" width="5.8" height="5.8" fill="#fff" stroke="#000" stroke-width="1.9"/>
<rect x="82.33" y="464" width="1.6" height="1.6" fill="#000"/>
<rect x="82.76" y="461.9" width="5.8" height="5.8" fill="#fff" stroke="#000" stroke-width="1.9"/>
<rect x="84.86" y="464" width="1.6" height="1.6" fill="#000"/>
<rect x="85.29" y="461.9" width="5.8" height="5.8" fill="#fff" stroke="#000" stroke-width="1.9"/>
<rect x="87.39" y="464" width="1.6" height="1.6" fill="#000"/>
<rect x="87.82" y="461.9" width="5.8" height="5.8" fill="#fff" stroke="#000" stroke-width="1.9"/>
<rect x="89.92" y="464" width="1.6" height="1.6" fill="#000"/>
<rect x="90.35" y="461.9" width="5.8" height="5.8" fill="#fff" stroke="#000" stroke-width="1.9"/>
<rect x="92.45" y="464" width="1.6" height="1.6" fill="#000"/>
<rect x="92.88" y="461.9" width="5.8" height="5.8" fill="#fff" stroke="#000" stroke-width="1.9"/>
<rect x="94.98" y="464" width="1.6" height="1.6" fill="#000"/>
<rect x="95.41" y="461.9" width="5.8" height="5.8" fill="#fff" stroke="#000" stroke-width="1.9"/>
<rect x="97.51" y="464" width="1.6" height="1.6" fill="#000"/>
<rect x="97.94" y="461.9" width="5.8" height="5.8" fill="#fff" stroke="#000" stroke-width="1.9"/>
<rect x="100.04" y="464" width="1.6" height="1.6" fill="#000"/>
<rect x="100.47" y="461.9" width="5.8" height="5.8" fill="#fff" stroke="#000" stroke-width="1.9"/>
<rect x="102.57" y="464" width="1.6" height="1.6" fill="#000"/>
<rect x="103" y="461.9" width="5.8" height="5.8" fill="#fff" stroke="#000" stroke-width="1.9"/>
<rect x="105.1" y="464" width="1.6" height="1.6" fill="#000"/>
<rect x="50.6" y="283.6" width="262.6" height="211.8" fill="none" stroke="#000" stroke-width="2.5"/>
<path d="M54.8 495.4v-4M54.8 283.6v4M105.4 495.4v-4M105.4 283.6v4M156 495.4v-4M156 283.6v4M206.6 495.4v-4M206.6 283.6v4M257.2 495.4v-4M257.2 283.6v4M307.8 495.4v-4M307.8 283.6v4M64.92 495.4v-2M64.92 283.6v2M75.04 495.4v-2M75.04 283.6v2M85.16 495.4v-2M85.16 283.6v2M95.28 495.4v-2M95.28 283.6v2M115.52 495.4v-2M115.52 283.6v2M125.64 495.4v-2M125.64 283.6v2M135.76 495.4v-2M135.76 283.6v2M145.88 495.4v-2M145.88 283.6v2M166.12 495.4v-2M166.12 283.6v2M176.24 495.4v-2M176.24 283.6v2M186.36 495.4v-2M186.36 283.6v2M196.48 495.4v-2M196.48 283.6v2M216.72 495.4v-2M216.72 283.6v2M226.84 495.4v-2M226.84 283.6v2M236.96 495.4v-2M236.96 283.6v2M247.08 495.4v-2M247.08 283.6v2M267.32 495.4v-2M267.32 283.6v2M277.44 495.4v-2M277.44 283.6v2M287.56 495.4v-2M287.56 283.6v2M297.68 495.4v-2M297.68 283.6v2M50.6 464.3h4M50.6 404.1h4M50.6 343.9h4M50.6 283.7h4M50.6 488.38h2M50.6 476.34h2M50.6 452.26h2M50.6 440.22h2M50.6 428.18h2M50.6 416.14h2M50.6 392.06h2M50.6 380.02h2M50.6 367.98h2M50.6 355.94h2M50.6 331.86h2M50.6 319.82h2M50.6 307.78h2M50.6 295.74h2M313.2 464.3h-4M313.2 404.1h-4M313.2 343.9h-4M313.2 283.7h-4M313.2 488.38h-2M313.2 476.34h-2M313.2 452.26h-2M313.2 440.22h-2M313.2 428.18h-2M313.2 416.14h-2M313.2 392.06h-2M313.2 380.02h-2M313.2 367.98h-2M313.2 355.94h-2M313.2 331.86h-2M313.2 319.82h-2M313.2 307.78h-2M313.2 295.74h-2" stroke="#000" stroke-width="1.6" fill="none"/>
<text x="55.2" y="514.2" font-size="18" text-anchor="middle" fill="#000">0</text>
<text x="105.8" y="514.2" font-size="18" text-anchor="middle" fill="#000">2</text>
<text x="156.4" y="514.2" font-size="18" text-anchor="middle" fill="#000">4</text>
<text x="207" y="514.2" font-size="18" text-anchor="middle" fill="#000">6</text>
<text x="257.6" y="514.2" font-size="18" text-anchor="middle" fill="#000">8</text>
<text x="308.2" y="514.2" font-size="18" text-anchor="middle" fill="#000">10</text>
<text x="45.3" y="469.6" font-size="18" text-anchor="end" fill="#000">0</text>
<text x="45.3" y="409.4" font-size="18" text-anchor="end" fill="#000">1</text>
<text x="45.3" y="349.2" font-size="18" text-anchor="end" fill="#000">2</text>
<text x="45.3" y="289" font-size="18" text-anchor="end" fill="#000">3</text>
<text x="26.7" y="409" font-size="18" text-anchor="middle" fill="#000" transform="rotate(-90 26.7 409)">Distance d between PDs (nm)</text>
<text x="181.9" y="534.3" font-size="18" text-anchor="middle" fill="#000">Solute concentration (at.%)</text>
<text x="61.7" y="339.1" font-size="28.2" text-anchor="start" fill="#000">(c)</text>
<path d="M169.4 413.7H182.3M190.5 413.7H201.1" fill="none" stroke="#000" stroke-width="2.4" stroke-linecap="butt"/>
<rect x="183.8" y="411.1" width="5.2" height="5.2" fill="#fff" stroke="#000" stroke-width="1.9"/>
<rect x="185.6" y="412.9" width="1.6" height="1.6" fill="#000"/>
<text x="207.3" y="418.7" font-size="14.6" text-anchor="start" font-weight="bold" fill="#000">Mg-Y</text>
<path d="M169.4 432.17h6M195.1 432.17H201.1" fill="none" stroke="#ff0000" stroke-width="2.4"/>
<polygon points="186.4,435.07 182.9,429.27 189.9,429.27" fill="#fff" stroke="#ff0000" stroke-width="1.9"/>
<rect x="185.6" y="431.37" width="1.6" height="1.6" fill="#ff0000"/>
<text x="207.3" y="437.17" font-size="14.6" text-anchor="start" font-weight="bold" fill="#000">Mg-Zn</text>
<path d="M169.4 450.64H181.9M190.9 450.64H201.1" fill="none" stroke="#0000ff" stroke-width="2.4" stroke-dasharray="0 3.6" stroke-linecap="round"/>
<circle cx="186.4" cy="450.64" r="3" fill="#fff" stroke="#0000ff" stroke-width="1.9"/>
<rect x="185.6" y="449.84" width="1.6" height="1.6" fill="#0000ff"/>
<text x="207.3" y="455.64" font-size="14.6" text-anchor="start" font-weight="bold" fill="#000">Mg-Al</text>
<path d="M169.4 469.11h6M195.1 469.11H201.1" fill="none" stroke="#ff00ff" stroke-width="2.4"/>
<polygon points="186.4,466.21 182.9,472.01 189.9,472.01" fill="#fff" stroke="#ff00ff" stroke-width="1.9"/>
<rect x="185.6" y="468.31" width="1.6" height="1.6" fill="#ff00ff"/>
<text x="207.3" y="474.11" font-size="14.6" text-anchor="start" font-weight="bold" fill="#000">Mg-Li</text>
<path d="M404.07 294.39L408.64 295.91M417.08 298.36L421.45 299.44M430 301.53L434.35 302.57M442.96 304.4L447.21 305.2M455.88 306.71L460.11 307.39M468.76 308.97L473.05 309.83M481.7 311.41L485.93 312.09M494.56 313.76L498.89 314.74M507.56 316.11L511.71 316.49M520.46 317.37L524.63 317.83" fill="none" stroke="#ff0000" stroke-width="1.2" stroke-dasharray="3.5 2" stroke-linecap="butt"/>
<polygon points="399.9,289.4 395.8,296.6 404,296.6" fill="#fff" stroke="#ff0000" stroke-width="1.9"/>
<rect x="399.1" y="292.2" width="1.6" height="1.6" fill="#ff0000"/>
<polygon points="412.81,293.7 408.71,300.9 416.91,300.9" fill="#fff" stroke="#ff0000" stroke-width="1.9"/>
<rect x="412.01" y="296.5" width="1.6" height="1.6" fill="#ff0000"/>
<polygon points="425.72,296.9 421.62,304.1 429.82,304.1" fill="#fff" stroke="#ff0000" stroke-width="1.9"/>
<rect x="424.92" y="299.7" width="1.6" height="1.6" fill="#ff0000"/>
<polygon points="438.63,300 434.53,307.2 442.73,307.2" fill="#fff" stroke="#ff0000" stroke-width="1.9"/>
<rect x="437.83" y="302.8" width="1.6" height="1.6" fill="#ff0000"/>
<polygon points="451.54,302.4 447.44,309.6 455.64,309.6" fill="#fff" stroke="#ff0000" stroke-width="1.9"/>
<rect x="450.74" y="305.2" width="1.6" height="1.6" fill="#ff0000"/>
<polygon points="464.45,304.5 460.35,311.7 468.55,311.7" fill="#fff" stroke="#ff0000" stroke-width="1.9"/>
<rect x="463.65" y="307.3" width="1.6" height="1.6" fill="#ff0000"/>
<polygon points="477.36,307.1 473.26,314.3 481.46,314.3" fill="#fff" stroke="#ff0000" stroke-width="1.9"/>
<rect x="476.56" y="309.9" width="1.6" height="1.6" fill="#ff0000"/>
<polygon points="490.27,309.2 486.17,316.4 494.37,316.4" fill="#fff" stroke="#ff0000" stroke-width="1.9"/>
<rect x="489.47" y="312" width="1.6" height="1.6" fill="#ff0000"/>
<polygon points="503.18,312.1 499.08,319.3 507.28,319.3" fill="#fff" stroke="#ff0000" stroke-width="1.9"/>
<rect x="502.38" y="314.9" width="1.6" height="1.6" fill="#ff0000"/>
<polygon points="516.09,313.3 511.99,320.5 520.19,320.5" fill="#fff" stroke="#ff0000" stroke-width="1.9"/>
<rect x="515.29" y="316.1" width="1.6" height="1.6" fill="#ff0000"/>
<polygon points="529,314.7 524.9,321.9 533.1,321.9" fill="#fff" stroke="#ff0000" stroke-width="1.9"/>
<rect x="528.2" y="317.5" width="1.6" height="1.6" fill="#ff0000"/>
<path d="M403.88 293.77L408.83 294.73M416.74 296.47L421.79 297.73M429.66 299.65L434.69 300.85M442.61 302.54L447.56 303.46M455.54 304.85L460.45 305.65M468.42 307.1L473.39 308.1M481.36 309.55L486.27 310.35M494.22 311.89L499.23 313.01M507.21 314.27L512.06 314.73M520.12 315.54L524.97 316.06M533.03 316.87L537.88 317.33M545.94 318.11L550.79 318.59M558.85 319.37L563.7 319.83M571.76 320.57L576.61 321.03M584.66 321.87L589.53 322.43M597.58 323.34L602.43 323.86M610.5 324.58L615.33 324.92M623.41 325.54L628.24 325.96M636.32 326.58L641.15 326.92M649.23 327.45L654.06 327.75" fill="none" stroke="#0000ff" stroke-width="1.3" stroke-dasharray="0 2.2" stroke-linecap="round"/>
<circle cx="399.9" cy="293" r="3.25" fill="#fff" stroke="#0000ff" stroke-width="1.9"/>
<rect x="399.1" y="292.2" width="1.6" height="1.6" fill="#0000ff"/>
<circle cx="412.81" cy="295.5" r="3.25" fill="#fff" stroke="#0000ff" stroke-width="1.9"/>
<rect x="412.01" y="294.7" width="1.6" height="1.6" fill="#0000ff"/>
<circle cx="425.72" cy="298.7" r="3.25" fill="#fff" stroke="#0000ff" stroke-width="1.9"/>
<rect x="424.92" y="297.9" width="1.6" height="1.6" fill="#0000ff"/>
<circle cx="438.63" cy="301.8" r="3.25" fill="#fff" stroke="#0000ff" stroke-width="1.9"/>
<rect x="437.83" y="301" width="1.6" height="1.6" fill="#0000ff"/>
<circle cx="451.54" cy="304.2" r="3.25" fill="#fff" stroke="#0000ff" stroke-width="1.9"/>
<rect x="450.74" y="303.4" width="1.6" height="1.6" fill="#0000ff"/>
<circle cx="464.45" cy="306.3" r="3.25" fill="#fff" stroke="#0000ff" stroke-width="1.9"/>
<rect x="463.65" y="305.5" width="1.6" height="1.6" fill="#0000ff"/>
<circle cx="477.36" cy="308.9" r="3.25" fill="#fff" stroke="#0000ff" stroke-width="1.9"/>
<rect x="476.56" y="308.1" width="1.6" height="1.6" fill="#0000ff"/>
<circle cx="490.27" cy="311" r="3.25" fill="#fff" stroke="#0000ff" stroke-width="1.9"/>
<rect x="489.47" y="310.2" width="1.6" height="1.6" fill="#0000ff"/>
<circle cx="503.18" cy="313.9" r="3.25" fill="#fff" stroke="#0000ff" stroke-width="1.9"/>
<rect x="502.38" y="313.1" width="1.6" height="1.6" fill="#0000ff"/>
<circle cx="516.09" cy="315.1" r="3.25" fill="#fff" stroke="#0000ff" stroke-width="1.9"/>
<rect x="515.29" y="314.3" width="1.6" height="1.6" fill="#0000ff"/>
<circle cx="529" cy="316.5" r="3.25" fill="#fff" stroke="#0000ff" stroke-width="1.9"/>
<rect x="528.2" y="315.7" width="1.6" height="1.6" fill="#0000ff"/>
<circle cx="541.91" cy="317.7" r="3.25" fill="#fff" stroke="#0000ff" stroke-width="1.9"/>
<rect x="541.11" y="316.9" width="1.6" height="1.6" fill="#0000ff"/>
<circle cx="554.82" cy="319" r="3.25" fill="#fff" stroke="#0000ff" stroke-width="1.9"/>
<rect x="554.02" y="318.2" width="1.6" height="1.6" fill="#0000ff"/>
<circle cx="567.73" cy="320.2" r="3.25" fill="#fff" stroke="#0000ff" stroke-width="1.9"/>
<rect x="566.93" y="319.4" width="1.6" height="1.6" fill="#0000ff"/>
<circle cx="580.64" cy="321.4" r="3.25" fill="#fff" stroke="#0000ff" stroke-width="1.9"/>
<rect x="579.84" y="320.6" width="1.6" height="1.6" fill="#0000ff"/>
<circle cx="593.55" cy="322.9" r="3.25" fill="#fff" stroke="#0000ff" stroke-width="1.9"/>
<rect x="592.75" y="322.1" width="1.6" height="1.6" fill="#0000ff"/>
<circle cx="606.46" cy="324.3" r="3.25" fill="#fff" stroke="#0000ff" stroke-width="1.9"/>
<rect x="605.66" y="323.5" width="1.6" height="1.6" fill="#0000ff"/>
<circle cx="619.37" cy="325.2" r="3.25" fill="#fff" stroke="#0000ff" stroke-width="1.9"/>
<rect x="618.57" y="324.4" width="1.6" height="1.6" fill="#0000ff"/>
<circle cx="632.28" cy="326.3" r="3.25" fill="#fff" stroke="#0000ff" stroke-width="1.9"/>
<rect x="631.48" y="325.5" width="1.6" height="1.6" fill="#0000ff"/>
<circle cx="645.19" cy="327.2" r="3.25" fill="#fff" stroke="#0000ff" stroke-width="1.9"/>
<rect x="644.39" y="326.4" width="1.6" height="1.6" fill="#0000ff"/>
<circle cx="658.1" cy="328" r="3.25" fill="#fff" stroke="#0000ff" stroke-width="1.9"/>
<rect x="657.3" y="327.2" width="1.6" height="1.6" fill="#0000ff"/>
<path d="M405.7 291.41L407.01 291.42M418.61 291.44L419.92 291.45M431.52 291.47L432.83 291.48M444.43 291.5L445.74 291.51M457.34 291.53L458.65 291.54M470.25 291.56L471.56 291.57M483.16 291.59L484.47 291.6M496.07 291.62L497.38 291.63M508.98 291.65L510.29 291.66M521.89 291.68L523.2 291.69M534.8 291.71L536.11 291.72M547.71 291.74L549.02 291.75M560.62 291.77L561.93 291.78M573.53 291.8L574.84 291.81M586.44 291.83L587.75 291.84M599.35 291.86L600.66 291.87M612.26 291.89L613.57 291.9M625.17 291.92L626.48 291.93M638.08 291.95L639.39 291.96M650.99 291.98L652.3 291.99" fill="none" stroke="#ff00ff" stroke-width="1.6" stroke-dasharray="0 3" stroke-linecap="round"/>
<polygon points="399.9,295 395.8,287.8 404,287.8" fill="#fff" stroke="#ff00ff" stroke-width="1.9"/>
<rect x="399.1" y="290.6" width="1.6" height="1.6" fill="#ff00ff"/>
<polygon points="412.81,295.03 408.71,287.83 416.91,287.83" fill="#fff" stroke="#ff00ff" stroke-width="1.9"/>
<rect x="412.01" y="290.63" width="1.6" height="1.6" fill="#ff00ff"/>
<polygon points="425.72,295.06 421.62,287.86 429.82,287.86" fill="#fff" stroke="#ff00ff" stroke-width="1.9"/>
<rect x="424.92" y="290.66" width="1.6" height="1.6" fill="#ff00ff"/>
<polygon points="438.63,295.09 434.53,287.89 442.73,287.89" fill="#fff" stroke="#ff00ff" stroke-width="1.9"/>
<rect x="437.83" y="290.69" width="1.6" height="1.6" fill="#ff00ff"/>
<polygon points="451.54,295.12 447.44,287.92 455.64,287.92" fill="#fff" stroke="#ff00ff" stroke-width="1.9"/>
<rect x="450.74" y="290.72" width="1.6" height="1.6" fill="#ff00ff"/>
<polygon points="464.45,295.15 460.35,287.95 468.55,287.95" fill="#fff" stroke="#ff00ff" stroke-width="1.9"/>
<rect x="463.65" y="290.75" width="1.6" height="1.6" fill="#ff00ff"/>
<polygon points="477.36,295.18 473.26,287.98 481.46,287.98" fill="#fff" stroke="#ff00ff" stroke-width="1.9"/>
<rect x="476.56" y="290.78" width="1.6" height="1.6" fill="#ff00ff"/>
<polygon points="490.27,295.21 486.17,288.01 494.37,288.01" fill="#fff" stroke="#ff00ff" stroke-width="1.9"/>
<rect x="489.47" y="290.81" width="1.6" height="1.6" fill="#ff00ff"/>
<polygon points="503.18,295.24 499.08,288.04 507.28,288.04" fill="#fff" stroke="#ff00ff" stroke-width="1.9"/>
<rect x="502.38" y="290.84" width="1.6" height="1.6" fill="#ff00ff"/>
<polygon points="516.09,295.27 511.99,288.07 520.19,288.07" fill="#fff" stroke="#ff00ff" stroke-width="1.9"/>
<rect x="515.29" y="290.87" width="1.6" height="1.6" fill="#ff00ff"/>
<polygon points="529,295.3 524.9,288.1 533.1,288.1" fill="#fff" stroke="#ff00ff" stroke-width="1.9"/>
<rect x="528.2" y="290.9" width="1.6" height="1.6" fill="#ff00ff"/>
<polygon points="541.91,295.33 537.81,288.13 546.01,288.13" fill="#fff" stroke="#ff00ff" stroke-width="1.9"/>
<rect x="541.11" y="290.93" width="1.6" height="1.6" fill="#ff00ff"/>
<polygon points="554.82,295.36 550.72,288.16 558.92,288.16" fill="#fff" stroke="#ff00ff" stroke-width="1.9"/>
<rect x="554.02" y="290.96" width="1.6" height="1.6" fill="#ff00ff"/>
<polygon points="567.73,295.39 563.63,288.19 571.83,288.19" fill="#fff" stroke="#ff00ff" stroke-width="1.9"/>
<rect x="566.93" y="290.99" width="1.6" height="1.6" fill="#ff00ff"/>
<polygon points="580.64,295.42 576.54,288.22 584.74,288.22" fill="#fff" stroke="#ff00ff" stroke-width="1.9"/>
<rect x="579.84" y="291.02" width="1.6" height="1.6" fill="#ff00ff"/>
<polygon points="593.55,295.45 589.45,288.25 597.65,288.25" fill="#fff" stroke="#ff00ff" stroke-width="1.9"/>
<rect x="592.75" y="291.05" width="1.6" height="1.6" fill="#ff00ff"/>
<polygon points="606.46,295.48 602.36,288.28 610.56,288.28" fill="#fff" stroke="#ff00ff" stroke-width="1.9"/>
<rect x="605.66" y="291.08" width="1.6" height="1.6" fill="#ff00ff"/>
<polygon points="619.37,295.51 615.27,288.31 623.47,288.31" fill="#fff" stroke="#ff00ff" stroke-width="1.9"/>
<rect x="618.57" y="291.11" width="1.6" height="1.6" fill="#ff00ff"/>
<polygon points="632.28,295.54 628.18,288.34 636.38,288.34" fill="#fff" stroke="#ff00ff" stroke-width="1.9"/>
<rect x="631.48" y="291.14" width="1.6" height="1.6" fill="#ff00ff"/>
<polygon points="645.19,295.57 641.09,288.37 649.29,288.37" fill="#fff" stroke="#ff00ff" stroke-width="1.9"/>
<rect x="644.39" y="291.17" width="1.6" height="1.6" fill="#ff00ff"/>
<polygon points="658.1,295.6 654,288.4 662.2,288.4" fill="#fff" stroke="#ff00ff" stroke-width="1.9"/>
<rect x="657.3" y="291.2" width="1.6" height="1.6" fill="#ff00ff"/>
<path d="M399.97 295.6L402.41 409M403.18 415.73L404.37 421.47M406.01 428.07L406.7 430.43" fill="none" stroke="#000" stroke-width="1.5" stroke-dasharray="5 2.5 1.5 2.5" stroke-linecap="butt"/>
<rect x="397.3" y="289.6" width="5.2" height="5.2" fill="#fff" stroke="#000" stroke-width="1.7"/>
<rect x="399.1" y="291.4" width="1.6" height="1.6" fill="#000"/>
<rect x="399.88" y="409.8" width="5.2" height="5.2" fill="#fff" stroke="#000" stroke-width="1.7"/>
<rect x="401.68" y="411.6" width="1.6" height="1.6" fill="#000"/>
<rect x="402.46" y="422.2" width="5.2" height="5.2" fill="#fff" stroke="#000" stroke-width="1.7"/>
<rect x="404.26" y="424" width="1.6" height="1.6" fill="#000"/>
<rect x="405.05" y="431.1" width="5.2" height="5.2" fill="#fff" stroke="#000" stroke-width="1.7"/>
<rect x="406.85" y="432.9" width="1.6" height="1.6" fill="#000"/>
<rect x="407.63" y="437.6" width="5.2" height="5.2" fill="#fff" stroke="#000" stroke-width="1.7"/>
<rect x="409.43" y="439.4" width="1.6" height="1.6" fill="#000"/>
<rect x="410.21" y="442.7" width="5.2" height="5.2" fill="#fff" stroke="#000" stroke-width="1.7"/>
<rect x="412.01" y="444.5" width="1.6" height="1.6" fill="#000"/>
<rect x="412.79" y="446.3" width="5.2" height="5.2" fill="#fff" stroke="#000" stroke-width="1.7"/>
<rect x="414.59" y="448.1" width="1.6" height="1.6" fill="#000"/>
<rect x="415.37" y="450" width="5.2" height="5.2" fill="#fff" stroke="#000" stroke-width="1.7"/>
<rect x="417.17" y="451.8" width="1.6" height="1.6" fill="#000"/>
<rect x="417.96" y="453.2" width="5.2" height="5.2" fill="#fff" stroke="#000" stroke-width="1.7"/>
<rect x="419.76" y="455" width="1.6" height="1.6" fill="#000"/>
<rect x="420.54" y="456.1" width="5.2" height="5.2" fill="#fff" stroke="#000" stroke-width="1.7"/>
<rect x="422.34" y="457.9" width="1.6" height="1.6" fill="#000"/>
<rect x="423.12" y="459" width="5.2" height="5.2" fill="#fff" stroke="#000" stroke-width="1.7"/>
<rect x="424.92" y="460.8" width="1.6" height="1.6" fill="#000"/>
<rect x="425.7" y="461.1" width="5.2" height="5.2" fill="#fff" stroke="#000" stroke-width="1.7"/>
<rect x="427.5" y="462.9" width="1.6" height="1.6" fill="#000"/>
<rect x="428.28" y="463" width="5.2" height="5.2" fill="#fff" stroke="#000" stroke-width="1.7"/>
<rect x="430.08" y="464.8" width="1.6" height="1.6" fill="#000"/>
<rect x="430.87" y="464.7" width="5.2" height="5.2" fill="#fff" stroke="#000" stroke-width="1.7"/>
<rect x="432.67" y="466.5" width="1.6" height="1.6" fill="#000"/>
<rect x="433.45" y="466.3" width="5.2" height="5.2" fill="#fff" stroke="#000" stroke-width="1.7"/>
<rect x="435.25" y="468.1" width="1.6" height="1.6" fill="#000"/>
<rect x="436.03" y="467.8" width="5.2" height="5.2" fill="#fff" stroke="#000" stroke-width="1.7"/>
<rect x="437.83" y="469.6" width="1.6" height="1.6" fill="#000"/>
<rect x="438.61" y="469.2" width="5.2" height="5.2" fill="#fff" stroke="#000" stroke-width="1.7"/>
<rect x="440.41" y="471" width="1.6" height="1.6" fill="#000"/>
<rect x="441.19" y="470.5" width="5.2" height="5.2" fill="#fff" stroke="#000" stroke-width="1.7"/>
<rect x="442.99" y="472.3" width="1.6" height="1.6" fill="#000"/>
<rect x="443.78" y="471.6" width="5.2" height="5.2" fill="#fff" stroke="#000" stroke-width="1.7"/>
<rect x="445.58" y="473.4" width="1.6" height="1.6" fill="#000"/>
<rect x="446.36" y="472.6" width="5.2" height="5.2" fill="#fff" stroke="#000" stroke-width="1.7"/>
<rect x="448.16" y="474.4" width="1.6" height="1.6" fill="#000"/>
<rect x="448.94" y="473.4" width="5.2" height="5.2" fill="#fff" stroke="#000" stroke-width="1.7"/>
<rect x="450.74" y="475.2" width="1.6" height="1.6" fill="#000"/>
<rect x="395.4" y="279.3" width="268.4" height="215.6" fill="none" stroke="#000" stroke-width="2.5"/>
<path d="M399.9 494.9v-4M399.9 279.3v4M451.54 494.9v-4M451.54 279.3v4M503.18 494.9v-4M503.18 279.3v4M554.82 494.9v-4M554.82 279.3v4M606.46 494.9v-4M606.46 279.3v4M658.1 494.9v-4M658.1 279.3v4M410.23 494.9v-2M410.23 279.3v2M420.56 494.9v-2M420.56 279.3v2M430.88 494.9v-2M430.88 279.3v2M441.21 494.9v-2M441.21 279.3v2M461.87 494.9v-2M461.87 279.3v2M472.2 494.9v-2M472.2 279.3v2M482.52 494.9v-2M482.52 279.3v2M492.85 494.9v-2M492.85 279.3v2M513.51 494.9v-2M513.51 279.3v2M523.84 494.9v-2M523.84 279.3v2M534.16 494.9v-2M534.16 279.3v2M544.49 494.9v-2M544.49 279.3v2M565.15 494.9v-2M565.15 279.3v2M575.48 494.9v-2M575.48 279.3v2M585.8 494.9v-2M585.8 279.3v2M596.13 494.9v-2M596.13 279.3v2M616.79 494.9v-2M616.79 279.3v2M627.12 494.9v-2M627.12 279.3v2M637.44 494.9v-2M637.44 279.3v2M647.77 494.9v-2M647.77 279.3v2M395.4 495.1h4M395.4 434.93h4M395.4 374.76h4M395.4 314.59h4M395.4 483.07h2M395.4 471.03h2M395.4 459h2M395.4 446.96h2M395.4 422.9h2M395.4 410.86h2M395.4 398.83h2M395.4 386.79h2M395.4 362.73h2M395.4 350.69h2M395.4 338.66h2M395.4 326.62h2M395.4 302.56h2M395.4 290.52h2M663.8 495.1h-4M663.8 434.93h-4M663.8 374.76h-4M663.8 314.59h-4M663.8 483.07h-2M663.8 471.03h-2M663.8 459h-2M663.8 446.96h-2M663.8 422.9h-2M663.8 410.86h-2M663.8 398.83h-2M663.8 386.79h-2M663.8 362.73h-2M663.8 350.69h-2M663.8 338.66h-2M663.8 326.62h-2M663.8 302.56h-2M663.8 290.52h-2" stroke="#000" stroke-width="1.6" fill="none"/>
<text x="400.1" y="516.6" font-size="18" text-anchor="middle" fill="#000">0</text>
<text x="451.74" y="516.6" font-size="18" text-anchor="middle" fill="#000">2</text>
<text x="503.38" y="516.6" font-size="18" text-anchor="middle" fill="#000">4</text>
<text x="555.02" y="516.6" font-size="18" text-anchor="middle" fill="#000">6</text>
<text x="606.66" y="516.6" font-size="18" text-anchor="middle" fill="#000">8</text>
<text x="658.3" y="516.6" font-size="18" text-anchor="middle" fill="#000">10</text>
<text x="390.4" y="500.9" font-size="18.6" text-anchor="end" fill="#000">7</text>
<text x="390.4" y="440.73" font-size="18.6" text-anchor="end" fill="#000">8</text>
<text x="390.4" y="380.56" font-size="18.6" text-anchor="end" fill="#000">9</text>
<text x="390.4" y="320.39" font-size="18.6" text-anchor="end" fill="#000">10</text>
<text x="364" y="386.1" font-size="18" text-anchor="middle" fill="#000" transform="rotate(-90 364 386.1)">DLE (eV/nm)</text>
<text x="518.5" y="536" font-size="18.4" text-anchor="middle" fill="#000">Solute concentration (at.%)</text>
<text x="412.7" y="344.9" font-size="28.9" text-anchor="start" fill="#000">(d)</text>
<path d="M518 369.3H533M539.8 369.3H555.2" fill="none" stroke="#000" stroke-width="1.3" stroke-dasharray="5 1.8 1.6 1.8 1.6 1.8" stroke-linecap="butt"/>
<rect x="533.8" y="366.7" width="5.2" height="5.2" fill="#fff" stroke="#000" stroke-width="1.9"/>
<rect x="535.6" y="368.5" width="1.6" height="1.6" fill="#000"/>
<text x="559.2" y="374.4" font-size="16.2" text-anchor="start" fill="#000">Mg-Y</text>
<path d="M518 389.4H532M540.8 389.4H555.2" fill="none" stroke="#ff0000" stroke-width="1.3" stroke-dasharray="3.5 2" stroke-linecap="butt"/>
<polygon points="536.4,385.8 532.3,393 540.5,393" fill="#fff" stroke="#ff0000" stroke-width="1.9"/>
<rect x="535.6" y="388.6" width="1.6" height="1.6" fill="#ff0000"/>
<text x="559.2" y="394.5" font-size="16.2" text-anchor="start" fill="#000">Mg-Zn</text>
<path d="M518 409.5H532.35M540.45 409.5H555.2" fill="none" stroke="#0000ff" stroke-width="1.3" stroke-dasharray="0 2.2" stroke-linecap="round"/>
<circle cx="536.4" cy="409.5" r="3.25" fill="#fff" stroke="#0000ff" stroke-width="1.9"/>
<rect x="535.6" y="408.7" width="1.6" height="1.6" fill="#0000ff"/>
<text x="559.2" y="414.6" font-size="16.2" text-anchor="start" fill="#000">Mg-Al</text>
<path d="M518 429.6H532M540.8 429.6H555.2" fill="none" stroke="#ff00ff" stroke-width="1.3" stroke-dasharray="5 2 1.6 2" stroke-linecap="butt"/>
<polygon points="536.4,433.2 532.3,426 540.5,426" fill="#fff" stroke="#ff00ff" stroke-width="1.9"/>
<rect x="535.6" y="428.8" width="1.6" height="1.6" fill="#ff00ff"/>
<text x="559.2" y="434.7" font-size="16.2" text-anchor="start" fill="#000">Mg-Li</text>
<path d="M60.64 741.16L66.38 748.74M73.03 748.45L79.63 737.95M88.55 733.68L89.75 733.82M100.79 731.89L103.15 730.71M114.23 728.1L115.35 728.1M127.05 728.1L128.17 728.1M139.87 728.1L140.99 728.1M152.06 725.45L154.44 724.25M165.51 721.6L166.63 721.6M177.63 718.83L180.15 717.47M191.15 714.7L192.27 714.7M203.42 712.22L205.64 711.18M216.17 706.09L218.53 704.91M229.14 699.99L231.2 699.11M240.78 692.73L245.2 688.47M252.58 679.49L259.04 669.51M264.32 659.14L272.94 636.76M276.15 625.56L286.75 570.54" fill="none" stroke="#000" stroke-width="2.2" stroke-dasharray="8 3 1.6 3" stroke-linecap="butt"/>
<rect x="54.45" y="733.85" width="5.3" height="5.3" fill="#fff" stroke="#000" stroke-width="2.0"/>
<rect x="56.3" y="735.7" width="1.6" height="1.6" fill="#000"/>
<rect x="67.27" y="750.75" width="5.3" height="5.3" fill="#fff" stroke="#000" stroke-width="2.0"/>
<rect x="69.12" y="752.6" width="1.6" height="1.6" fill="#000"/>
<rect x="80.09" y="730.35" width="5.3" height="5.3" fill="#fff" stroke="#000" stroke-width="2.0"/>
<rect x="81.94" y="732.2" width="1.6" height="1.6" fill="#000"/>
<rect x="92.91" y="731.85" width="5.3" height="5.3" fill="#fff" stroke="#000" stroke-width="2.0"/>
<rect x="94.76" y="733.7" width="1.6" height="1.6" fill="#000"/>
<rect x="105.73" y="725.45" width="5.3" height="5.3" fill="#fff" stroke="#000" stroke-width="2.0"/>
<rect x="107.58" y="727.3" width="1.6" height="1.6" fill="#000"/>
<rect x="118.55" y="725.45" width="5.3" height="5.3" fill="#fff" stroke="#000" stroke-width="2.0"/>
<rect x="120.4" y="727.3" width="1.6" height="1.6" fill="#000"/>
<rect x="131.37" y="725.45" width="5.3" height="5.3" fill="#fff" stroke="#000" stroke-width="2.0"/>
<rect x="133.22" y="727.3" width="1.6" height="1.6" fill="#000"/>
<rect x="144.19" y="725.45" width="5.3" height="5.3" fill="#fff" stroke="#000" stroke-width="2.0"/>
<rect x="146.04" y="727.3" width="1.6" height="1.6" fill="#000"/>
<rect x="157.01" y="718.95" width="5.3" height="5.3" fill="#fff" stroke="#000" stroke-width="2.0"/>
<rect x="158.86" y="720.8" width="1.6" height="1.6" fill="#000"/>
<rect x="169.83" y="718.95" width="5.3" height="5.3" fill="#fff" stroke="#000" stroke-width="2.0"/>
<rect x="171.68" y="720.8" width="1.6" height="1.6" fill="#000"/>
<rect x="182.65" y="712.05" width="5.3" height="5.3" fill="#fff" stroke="#000" stroke-width="2.0"/>
<rect x="184.5" y="713.9" width="1.6" height="1.6" fill="#000"/>
<rect x="195.47" y="712.05" width="5.3" height="5.3" fill="#fff" stroke="#000" stroke-width="2.0"/>
<rect x="197.32" y="713.9" width="1.6" height="1.6" fill="#000"/>
<rect x="208.29" y="706.05" width="5.3" height="5.3" fill="#fff" stroke="#000" stroke-width="2.0"/>
<rect x="210.14" y="707.9" width="1.6" height="1.6" fill="#000"/>
<rect x="221.11" y="699.65" width="5.3" height="5.3" fill="#fff" stroke="#000" stroke-width="2.0"/>
<rect x="222.96" y="701.5" width="1.6" height="1.6" fill="#000"/>
<rect x="233.93" y="694.15" width="5.3" height="5.3" fill="#fff" stroke="#000" stroke-width="2.0"/>
<rect x="235.78" y="696" width="1.6" height="1.6" fill="#000"/>
<rect x="246.75" y="681.75" width="5.3" height="5.3" fill="#fff" stroke="#000" stroke-width="2.0"/>
<rect x="248.6" y="683.6" width="1.6" height="1.6" fill="#000"/>
<rect x="259.57" y="661.95" width="5.3" height="5.3" fill="#fff" stroke="#000" stroke-width="2.0"/>
<rect x="261.42" y="663.8" width="1.6" height="1.6" fill="#000"/>
<rect x="272.39" y="628.65" width="5.3" height="5.3" fill="#fff" stroke="#000" stroke-width="2.0"/>
<rect x="274.24" y="630.5" width="1.6" height="1.6" fill="#000"/>
<rect x="285.21" y="562.15" width="5.3" height="5.3" fill="#fff" stroke="#000" stroke-width="2.0"/>
<rect x="287.06" y="564" width="1.6" height="1.6" fill="#000"/>
<rect x="51.4" y="548.7" width="261.7" height="211.1" fill="none" stroke="#000" stroke-width="2.5"/>
<path d="M57.1 759.8v-4M57.1 548.7v4M121.2 759.8v-4M121.2 548.7v4M185.3 759.8v-4M185.3 548.7v4M249.4 759.8v-4M249.4 548.7v4M313.5 759.8v-4M313.5 548.7v4M69.92 759.8v-2M69.92 548.7v2M82.74 759.8v-2M82.74 548.7v2M95.56 759.8v-2M95.56 548.7v2M108.38 759.8v-2M108.38 548.7v2M134.02 759.8v-2M134.02 548.7v2M146.84 759.8v-2M146.84 548.7v2M159.66 759.8v-2M159.66 548.7v2M172.48 759.8v-2M172.48 548.7v2M198.12 759.8v-2M198.12 548.7v2M210.94 759.8v-2M210.94 548.7v2M223.76 759.8v-2M223.76 548.7v2M236.58 759.8v-2M236.58 548.7v2M262.22 759.8v-2M262.22 548.7v2M275.04 759.8v-2M275.04 548.7v2M287.86 759.8v-2M287.86 548.7v2M300.68 759.8v-2M300.68 548.7v2M51.4 753.3h4M51.4 705.3h4M51.4 657.3h4M51.4 609.3h4M51.4 561.3h4M51.4 745.3h2M51.4 737.3h2M51.4 729.3h2M51.4 721.3h2M51.4 713.3h2M51.4 697.3h2M51.4 689.3h2M51.4 681.3h2M51.4 673.3h2M51.4 665.3h2M51.4 649.3h2M51.4 641.3h2M51.4 633.3h2M51.4 625.3h2M51.4 617.3h2M51.4 601.3h2M51.4 593.3h2M51.4 585.3h2M51.4 577.3h2M51.4 569.3h2M51.4 553.3h2M313.1 753.3h-4M313.1 705.3h-4M313.1 657.3h-4M313.1 609.3h-4M313.1 561.3h-4M313.1 745.3h-2M313.1 737.3h-2M313.1 729.3h-2M313.1 721.3h-2M313.1 713.3h-2M313.1 697.3h-2M313.1 689.3h-2M313.1 681.3h-2M313.1 673.3h-2M313.1 665.3h-2M313.1 649.3h-2M313.1 641.3h-2M313.1 633.3h-2M313.1 625.3h-2M313.1 617.3h-2M313.1 601.3h-2M313.1 593.3h-2M313.1 585.3h-2M313.1 577.3h-2M313.1 569.3h-2M313.1 553.3h-2" stroke="#000" stroke-width="1.6" fill="none"/>
<text x="57.7" y="778" font-size="18" text-anchor="middle" fill="#000">0.0</text>
<text x="121.8" y="778" font-size="18" text-anchor="middle" fill="#000">0.5</text>
<text x="185.9" y="778" font-size="18" text-anchor="middle" fill="#000">1.0</text>
<text x="250" y="778" font-size="18" text-anchor="middle" fill="#000">1.5</text>
<text x="314.1" y="778" font-size="18" text-anchor="middle" fill="#000">2.0</text>
<text x="46.6" y="759.2" font-size="18" text-anchor="end" fill="#000">0</text>
<text x="46.6" y="711.2" font-size="18" text-anchor="end" fill="#000">4</text>
<text x="46.6" y="663.2" font-size="18" text-anchor="end" fill="#000">8</text>
<text x="46.6" y="615.2" font-size="18" text-anchor="end" fill="#000">12</text>
<text x="46.6" y="567.2" font-size="18" text-anchor="end" fill="#000">16</text>
<text x="21.5" y="666" font-size="18" text-anchor="middle" fill="#000" transform="rotate(-90 21.5 666)">Distance d between PDs (nm)</text>
<text x="182.7" y="799" font-size="18" text-anchor="middle" fill="#000">Solute concentration (at.%)</text>
<text x="63.7" y="598.1" font-size="30.5" text-anchor="start" fill="#000">(e)</text>
<path d="M99.9 612.3H116.95M125.25 612.3H141.5" fill="none" stroke="#000" stroke-width="2.2" stroke-dasharray="8 3 1.6 3" stroke-linecap="butt"/>
<rect x="118.45" y="609.65" width="5.3" height="5.3" fill="#fff" stroke="#000" stroke-width="2.0"/>
<rect x="120.3" y="611.5" width="1.6" height="1.6" fill="#000"/>
<text x="146.8" y="618.4" font-size="17.6" text-anchor="start" fill="#000">Mg-Y</text>
<path d="M406.79 566.73L410.01 566.87M419.79 566.87L423.01 566.73M432.78 566.09L436.02 565.81M445.8 565.4L449 565.4M458.8 565.25L462 565.15M471.79 564.77L475.01 564.63M484.8 564.4L488 564.4M497.79 564.17L501.01 564.03M510.79 563.5L514.01 563.3M523.78 562.55L527.02 562.25" fill="none" stroke="#ff0000" stroke-width="2.2" stroke-dasharray="6 2.5 1.6 2.5" stroke-linecap="butt"/>
<circle cx="401.9" cy="566.5" r="2.9" fill="#fff" stroke="#ff0000" stroke-width="1.6"/>
<rect x="401.2" y="565.8" width="1.4" height="1.4" fill="#ff0000"/>
<circle cx="414.9" cy="567.1" r="2.9" fill="#fff" stroke="#ff0000" stroke-width="1.6"/>
<rect x="414.2" y="566.4" width="1.4" height="1.4" fill="#ff0000"/>
<circle cx="427.9" cy="566.5" r="2.9" fill="#fff" stroke="#ff0000" stroke-width="1.6"/>
<rect x="427.2" y="565.8" width="1.4" height="1.4" fill="#ff0000"/>
<circle cx="440.9" cy="565.4" r="2.9" fill="#fff" stroke="#ff0000" stroke-width="1.6"/>
<rect x="440.2" y="564.7" width="1.4" height="1.4" fill="#ff0000"/>
<circle cx="453.9" cy="565.4" r="2.9" fill="#fff" stroke="#ff0000" stroke-width="1.6"/>
<rect x="453.2" y="564.7" width="1.4" height="1.4" fill="#ff0000"/>
<circle cx="466.9" cy="565" r="2.9" fill="#fff" stroke="#ff0000" stroke-width="1.6"/>
<rect x="466.2" y="564.3" width="1.4" height="1.4" fill="#ff0000"/>
<circle cx="479.9" cy="564.4" r="2.9" fill="#fff" stroke="#ff0000" stroke-width="1.6"/>
<rect x="479.2" y="563.7" width="1.4" height="1.4" fill="#ff0000"/>
<circle cx="492.9" cy="564.4" r="2.9" fill="#fff" stroke="#ff0000" stroke-width="1.6"/>
<rect x="492.2" y="563.7" width="1.4" height="1.4" fill="#ff0000"/>
<circle cx="505.9" cy="563.8" r="2.9" fill="#fff" stroke="#ff0000" stroke-width="1.6"/>
<rect x="505.2" y="563.1" width="1.4" height="1.4" fill="#ff0000"/>
<circle cx="518.9" cy="563" r="2.9" fill="#fff" stroke="#ff0000" stroke-width="1.6"/>
<rect x="518.2" y="562.3" width="1.4" height="1.4" fill="#ff0000"/>
<circle cx="531.9" cy="561.8" r="2.9" fill="#fff" stroke="#ff0000" stroke-width="1.6"/>
<rect x="531.2" y="561.1" width="1.4" height="1.4" fill="#ff0000"/>
<path d="M406.56 566.01L410.24 566.49M419.6 566.88L423.2 566.72M432.58 566.1L436.22 565.8M445.6 565.4L449.2 565.4M458.6 565.26L462.2 565.14M471.6 564.78L475.2 564.62M484.6 564.4L488.2 564.4M497.6 564.18L501.2 564.02M510.59 563.51L514.21 563.29M523.58 562.57L527.22 562.23M536.59 561.51L540.21 561.29M549.59 560.71L553.21 560.49M562.59 559.95L566.21 559.75M575.59 559.25L579.21 559.05M588.59 558.55L592.21 558.35M601.59 557.85L605.21 557.65M614.59 557.15L618.21 556.95M627.59 556.41L631.21 556.19M640.59 555.54L644.21 555.26M653.6 554.68L657.2 554.52" fill="none" stroke="#0000ff" stroke-width="2.2" stroke-dasharray="0 3.2" stroke-linecap="round"/>
<polygon points="401.9,562.7 398.65,568.1 405.15,568.1" fill="#fff" stroke="#0000ff" stroke-width="1.6"/>
<rect x="401.2" y="564.7" width="1.4" height="1.4" fill="#0000ff"/>
<polygon points="414.9,564.4 411.65,569.8 418.15,569.8" fill="#fff" stroke="#0000ff" stroke-width="1.6"/>
<rect x="414.2" y="566.4" width="1.4" height="1.4" fill="#0000ff"/>
<polygon points="427.9,563.8 424.65,569.2 431.15,569.2" fill="#fff" stroke="#0000ff" stroke-width="1.6"/>
<rect x="427.2" y="565.8" width="1.4" height="1.4" fill="#0000ff"/>
<polygon points="440.9,562.7 437.65,568.1 444.15,568.1" fill="#fff" stroke="#0000ff" stroke-width="1.6"/>
<rect x="440.2" y="564.7" width="1.4" height="1.4" fill="#0000ff"/>
<polygon points="453.9,562.7 450.65,568.1 457.15,568.1" fill="#fff" stroke="#0000ff" stroke-width="1.6"/>
<rect x="453.2" y="564.7" width="1.4" height="1.4" fill="#0000ff"/>
<polygon points="466.9,562.3 463.65,567.7 470.15,567.7" fill="#fff" stroke="#0000ff" stroke-width="1.6"/>
<rect x="466.2" y="564.3" width="1.4" height="1.4" fill="#0000ff"/>
<polygon points="479.9,561.7 476.65,567.1 483.15,567.1" fill="#fff" stroke="#0000ff" stroke-width="1.6"/>
<rect x="479.2" y="563.7" width="1.4" height="1.4" fill="#0000ff"/>
<polygon points="492.9,561.7 489.65,567.1 496.15,567.1" fill="#fff" stroke="#0000ff" stroke-width="1.6"/>
<rect x="492.2" y="563.7" width="1.4" height="1.4" fill="#0000ff"/>
<polygon points="505.9,561.1 502.65,566.5 509.15,566.5" fill="#fff" stroke="#0000ff" stroke-width="1.6"/>
<rect x="505.2" y="563.1" width="1.4" height="1.4" fill="#0000ff"/>
<polygon points="518.9,560.3 515.65,565.7 522.15,565.7" fill="#fff" stroke="#0000ff" stroke-width="1.6"/>
<rect x="518.2" y="562.3" width="1.4" height="1.4" fill="#0000ff"/>
<polygon points="531.9,559.1 528.65,564.5 535.15,564.5" fill="#fff" stroke="#0000ff" stroke-width="1.6"/>
<rect x="531.2" y="561.1" width="1.4" height="1.4" fill="#0000ff"/>
<polygon points="544.9,558.3 541.65,563.7 548.15,563.7" fill="#fff" stroke="#0000ff" stroke-width="1.6"/>
<rect x="544.2" y="560.3" width="1.4" height="1.4" fill="#0000ff"/>
<polygon points="557.9,557.5 554.65,562.9 561.15,562.9" fill="#fff" stroke="#0000ff" stroke-width="1.6"/>
<rect x="557.2" y="559.5" width="1.4" height="1.4" fill="#0000ff"/>
<polygon points="570.9,556.8 567.65,562.2 574.15,562.2" fill="#fff" stroke="#0000ff" stroke-width="1.6"/>
<rect x="570.2" y="558.8" width="1.4" height="1.4" fill="#0000ff"/>
<polygon points="583.9,556.1 580.65,561.5 587.15,561.5" fill="#fff" stroke="#0000ff" stroke-width="1.6"/>
<rect x="583.2" y="558.1" width="1.4" height="1.4" fill="#0000ff"/>
<polygon points="596.9,555.4 593.65,560.8 600.15,560.8" fill="#fff" stroke="#0000ff" stroke-width="1.6"/>
<rect x="596.2" y="557.4" width="1.4" height="1.4" fill="#0000ff"/>
<polygon points="609.9,554.7 606.65,560.1 613.15,560.1" fill="#fff" stroke="#0000ff" stroke-width="1.6"/>
<rect x="609.2" y="556.7" width="1.4" height="1.4" fill="#0000ff"/>
<polygon points="622.9,554 619.65,559.4 626.15,559.4" fill="#fff" stroke="#0000ff" stroke-width="1.6"/>
<rect x="622.2" y="556" width="1.4" height="1.4" fill="#0000ff"/>
<polygon points="635.9,553.2 632.65,558.6 639.15,558.6" fill="#fff" stroke="#0000ff" stroke-width="1.6"/>
<rect x="635.2" y="555.2" width="1.4" height="1.4" fill="#0000ff"/>
<polygon points="648.9,552.2 645.65,557.6 652.15,557.6" fill="#fff" stroke="#0000ff" stroke-width="1.6"/>
<rect x="648.2" y="554.2" width="1.4" height="1.4" fill="#0000ff"/>
<polygon points="661.9,551.6 658.65,557 665.15,557" fill="#fff" stroke="#0000ff" stroke-width="1.6"/>
<rect x="661.2" y="553.6" width="1.4" height="1.4" fill="#0000ff"/>
<path d="M406.6 568.55L410.2 568.58M419.6 568.67L423.2 568.7M432.6 568.8L436.2 568.83M445.6 568.92L449.2 568.95M458.6 569.05L462.2 569.08M471.6 569.17L475.2 569.2M484.6 569.3L488.2 569.33M497.6 569.42L501.2 569.45M510.6 569.55L514.2 569.58M523.6 569.67L527.2 569.7M536.6 569.8L540.2 569.83M549.6 569.92L553.2 569.95M562.6 570.05L566.2 570.08M575.6 570.17L579.2 570.2M588.6 570.3L592.2 570.33M601.6 570.42L605.2 570.45M614.6 570.55L618.2 570.58M627.6 570.67L631.2 570.7M640.6 570.8L644.2 570.83M653.6 570.92L657.2 570.95" fill="none" stroke="#ff00ff" stroke-width="2.2" stroke-dasharray="6 3" stroke-linecap="butt"/>
<polygon points="401.9,571.2 398.65,565.8 405.15,565.8" fill="#fff" stroke="#ff00ff" stroke-width="1.6"/>
<rect x="401.2" y="567.8" width="1.4" height="1.4" fill="#ff00ff"/>
<polygon points="414.9,571.33 411.65,565.92 418.15,565.92" fill="#fff" stroke="#ff00ff" stroke-width="1.6"/>
<rect x="414.2" y="567.92" width="1.4" height="1.4" fill="#ff00ff"/>
<polygon points="427.9,571.45 424.65,566.05 431.15,566.05" fill="#fff" stroke="#ff00ff" stroke-width="1.6"/>
<rect x="427.2" y="568.05" width="1.4" height="1.4" fill="#ff00ff"/>
<polygon points="440.9,571.58 437.65,566.17 444.15,566.17" fill="#fff" stroke="#ff00ff" stroke-width="1.6"/>
<rect x="440.2" y="568.17" width="1.4" height="1.4" fill="#ff00ff"/>
<polygon points="453.9,571.7 450.65,566.3 457.15,566.3" fill="#fff" stroke="#ff00ff" stroke-width="1.6"/>
<rect x="453.2" y="568.3" width="1.4" height="1.4" fill="#ff00ff"/>
<polygon points="466.9,571.83 463.65,566.42 470.15,566.42" fill="#fff" stroke="#ff00ff" stroke-width="1.6"/>
<rect x="466.2" y="568.42" width="1.4" height="1.4" fill="#ff00ff"/>
<polygon points="479.9,571.95 476.65,566.55 483.15,566.55" fill="#fff" stroke="#ff00ff" stroke-width="1.6"/>
<rect x="479.2" y="568.55" width="1.4" height="1.4" fill="#ff00ff"/>
<polygon points="492.9,572.08 489.65,566.67 496.15,566.67" fill="#fff" stroke="#ff00ff" stroke-width="1.6"/>
<rect x="492.2" y="568.67" width="1.4" height="1.4" fill="#ff00ff"/>
<polygon points="505.9,572.2 502.65,566.8 509.15,566.8" fill="#fff" stroke="#ff00ff" stroke-width="1.6"/>
<rect x="505.2" y="568.8" width="1.4" height="1.4" fill="#ff00ff"/>
<polygon points="518.9,572.33 515.65,566.92 522.15,566.92" fill="#fff" stroke="#ff00ff" stroke-width="1.6"/>
<rect x="518.2" y="568.92" width="1.4" height="1.4" fill="#ff00ff"/>
<polygon points="531.9,572.45 528.65,567.05 535.15,567.05" fill="#fff" stroke="#ff00ff" stroke-width="1.6"/>
<rect x="531.2" y="569.05" width="1.4" height="1.4" fill="#ff00ff"/>
<polygon points="544.9,572.58 541.65,567.17 548.15,567.17" fill="#fff" stroke="#ff00ff" stroke-width="1.6"/>
<rect x="544.2" y="569.17" width="1.4" height="1.4" fill="#ff00ff"/>
<polygon points="557.9,572.7 554.65,567.3 561.15,567.3" fill="#fff" stroke="#ff00ff" stroke-width="1.6"/>
<rect x="557.2" y="569.3" width="1.4" height="1.4" fill="#ff00ff"/>
<polygon points="570.9,572.83 567.65,567.42 574.15,567.42" fill="#fff" stroke="#ff00ff" stroke-width="1.6"/>
<rect x="570.2" y="569.42" width="1.4" height="1.4" fill="#ff00ff"/>
<polygon points="583.9,572.95 580.65,567.55 587.15,567.55" fill="#fff" stroke="#ff00ff" stroke-width="1.6"/>
<rect x="583.2" y="569.55" width="1.4" height="1.4" fill="#ff00ff"/>
<polygon points="596.9,573.08 593.65,567.67 600.15,567.67" fill="#fff" stroke="#ff00ff" stroke-width="1.6"/>
<rect x="596.2" y="569.67" width="1.4" height="1.4" fill="#ff00ff"/>
<polygon points="609.9,573.2 606.65,567.8 613.15,567.8" fill="#fff" stroke="#ff00ff" stroke-width="1.6"/>
<rect x="609.2" y="569.8" width="1.4" height="1.4" fill="#ff00ff"/>
<polygon points="622.9,573.33 619.65,567.92 626.15,567.92" fill="#fff" stroke="#ff00ff" stroke-width="1.6"/>
<rect x="622.2" y="569.92" width="1.4" height="1.4" fill="#ff00ff"/>
<polygon points="635.9,573.45 632.65,568.05 639.15,568.05" fill="#fff" stroke="#ff00ff" stroke-width="1.6"/>
<rect x="635.2" y="570.05" width="1.4" height="1.4" fill="#ff00ff"/>
<polygon points="648.9,573.58 645.65,568.17 652.15,568.17" fill="#fff" stroke="#ff00ff" stroke-width="1.6"/>
<rect x="648.2" y="570.17" width="1.4" height="1.4" fill="#ff00ff"/>
<polygon points="661.9,573.7 658.65,568.3 665.15,568.3" fill="#fff" stroke="#ff00ff" stroke-width="1.6"/>
<rect x="661.2" y="570.3" width="1.4" height="1.4" fill="#ff00ff"/>
<path d="M401.99 572.3L404.4 687.2" fill="none" stroke="#000" stroke-width="2.4" stroke-dasharray="8 4 1.6 4" stroke-linecap="butt"/>
<rect x="399.4" y="565.3" width="5" height="5" fill="#fff" stroke="#000" stroke-width="1.6"/>
<rect x="401.2" y="567.1" width="1.4" height="1.4" fill="#000"/>
<rect x="401.99" y="689.2" width="5" height="5" fill="#fff" stroke="#000" stroke-width="1.6"/>
<rect x="403.79" y="691" width="1.4" height="1.4" fill="#000"/>
<rect x="404.58" y="697.9" width="5" height="5" fill="#fff" stroke="#000" stroke-width="1.6"/>
<rect x="406.38" y="699.7" width="1.4" height="1.4" fill="#000"/>
<rect x="407.17" y="704.1" width="5" height="5" fill="#fff" stroke="#000" stroke-width="1.6"/>
<rect x="408.97" y="705.9" width="1.4" height="1.4" fill="#000"/>
<rect x="409.76" y="708.8" width="5" height="5" fill="#fff" stroke="#000" stroke-width="1.6"/>
<rect x="411.56" y="710.6" width="1.4" height="1.4" fill="#000"/>
<rect x="412.35" y="712.5" width="5" height="5" fill="#fff" stroke="#000" stroke-width="1.6"/>
<rect x="414.15" y="714.3" width="1.4" height="1.4" fill="#000"/>
<rect x="414.94" y="715.8" width="5" height="5" fill="#fff" stroke="#000" stroke-width="1.6"/>
<rect x="416.74" y="717.6" width="1.4" height="1.4" fill="#000"/>
<rect x="417.53" y="718.6" width="5" height="5" fill="#fff" stroke="#000" stroke-width="1.6"/>
<rect x="419.33" y="720.4" width="1.4" height="1.4" fill="#000"/>
<rect x="420.12" y="721" width="5" height="5" fill="#fff" stroke="#000" stroke-width="1.6"/>
<rect x="421.92" y="722.8" width="1.4" height="1.4" fill="#000"/>
<rect x="422.71" y="723.2" width="5" height="5" fill="#fff" stroke="#000" stroke-width="1.6"/>
<rect x="424.51" y="725" width="1.4" height="1.4" fill="#000"/>
<rect x="425.3" y="725.2" width="5" height="5" fill="#fff" stroke="#000" stroke-width="1.6"/>
<rect x="427.1" y="727" width="1.4" height="1.4" fill="#000"/>
<rect x="427.89" y="727" width="5" height="5" fill="#fff" stroke="#000" stroke-width="1.6"/>
<rect x="429.69" y="728.8" width="1.4" height="1.4" fill="#000"/>
<rect x="430.48" y="728.7" width="5" height="5" fill="#fff" stroke="#000" stroke-width="1.6"/>
<rect x="432.28" y="730.5" width="1.4" height="1.4" fill="#000"/>
<rect x="433.07" y="730.3" width="5" height="5" fill="#fff" stroke="#000" stroke-width="1.6"/>
<rect x="434.87" y="732.1" width="1.4" height="1.4" fill="#000"/>
<rect x="435.66" y="731.7" width="5" height="5" fill="#fff" stroke="#000" stroke-width="1.6"/>
<rect x="437.46" y="733.5" width="1.4" height="1.4" fill="#000"/>
<rect x="438.25" y="733" width="5" height="5" fill="#fff" stroke="#000" stroke-width="1.6"/>
<rect x="440.05" y="734.8" width="1.4" height="1.4" fill="#000"/>
<rect x="440.84" y="734.3" width="5" height="5" fill="#fff" stroke="#000" stroke-width="1.6"/>
<rect x="442.64" y="736.1" width="1.4" height="1.4" fill="#000"/>
<rect x="443.43" y="735.5" width="5" height="5" fill="#fff" stroke="#000" stroke-width="1.6"/>
<rect x="445.23" y="737.3" width="1.4" height="1.4" fill="#000"/>
<rect x="446.02" y="736.6" width="5" height="5" fill="#fff" stroke="#000" stroke-width="1.6"/>
<rect x="447.82" y="738.4" width="1.4" height="1.4" fill="#000"/>
<rect x="448.61" y="737.6" width="5" height="5" fill="#fff" stroke="#000" stroke-width="1.6"/>
<rect x="450.41" y="739.4" width="1.4" height="1.4" fill="#000"/>
<rect x="451.2" y="738.5" width="5" height="5" fill="#fff" stroke="#000" stroke-width="1.6"/>
<rect x="453" y="740.3" width="1.4" height="1.4" fill="#000"/>
<rect x="397.2" y="548.2" width="269.8" height="217.2" fill="none" stroke="#000" stroke-width="2.5"/>
<path d="M401.9 765.4v-3.8M401.9 548.2v3.8M453.9 765.4v-3.8M453.9 548.2v3.8M505.9 765.4v-3.8M505.9 548.2v3.8M557.9 765.4v-3.8M557.9 548.2v3.8M609.9 765.4v-3.8M609.9 548.2v3.8M661.9 765.4v-3.8M661.9 548.2v3.8M412.3 765.4v-1.6M412.3 548.2v1.6M422.7 765.4v-1.6M422.7 548.2v1.6M433.1 765.4v-1.6M433.1 548.2v1.6M443.5 765.4v-1.6M443.5 548.2v1.6M464.3 765.4v-1.6M464.3 548.2v1.6M474.7 765.4v-1.6M474.7 548.2v1.6M485.1 765.4v-1.6M485.1 548.2v1.6M495.5 765.4v-1.6M495.5 548.2v1.6M516.3 765.4v-1.6M516.3 548.2v1.6M526.7 765.4v-1.6M526.7 548.2v1.6M537.1 765.4v-1.6M537.1 548.2v1.6M547.5 765.4v-1.6M547.5 548.2v1.6M568.3 765.4v-1.6M568.3 548.2v1.6M578.7 765.4v-1.6M578.7 548.2v1.6M589.1 765.4v-1.6M589.1 548.2v1.6M599.5 765.4v-1.6M599.5 548.2v1.6M620.3 765.4v-1.6M620.3 548.2v1.6M630.7 765.4v-1.6M630.7 548.2v1.6M641.1 765.4v-1.6M641.1 548.2v1.6M651.5 765.4v-1.6M651.5 548.2v1.6M397.2 765.5h3.8M397.2 726.7h3.8M397.2 687.9h3.8M397.2 649.1h3.8M397.2 610.3h3.8M397.2 571.5h3.8M397.2 757.74h1.6M397.2 749.98h1.6M397.2 742.22h1.6M397.2 734.46h1.6M397.2 718.94h1.6M397.2 711.18h1.6M397.2 703.42h1.6M397.2 695.66h1.6M397.2 680.14h1.6M397.2 672.38h1.6M397.2 664.62h1.6M397.2 656.86h1.6M397.2 641.34h1.6M397.2 633.58h1.6M397.2 625.82h1.6M397.2 618.06h1.6M397.2 602.54h1.6M397.2 594.78h1.6M397.2 587.02h1.6M397.2 579.26h1.6M397.2 563.74h1.6M397.2 555.98h1.6M667 765.5h-3.8M667 726.7h-3.8M667 687.9h-3.8M667 649.1h-3.8M667 610.3h-3.8M667 571.5h-3.8M667 757.74h-1.6M667 749.98h-1.6M667 742.22h-1.6M667 734.46h-1.6M667 718.94h-1.6M667 711.18h-1.6M667 703.42h-1.6M667 695.66h-1.6M667 680.14h-1.6M667 672.38h-1.6M667 664.62h-1.6M667 656.86h-1.6M667 641.34h-1.6M667 633.58h-1.6M667 625.82h-1.6M667 618.06h-1.6M667 602.54h-1.6M667 594.78h-1.6M667 587.02h-1.6M667 579.26h-1.6M667 563.74h-1.6M667 555.98h-1.6" stroke="#000" stroke-width="1.6" fill="none"/>
<text x="401.9" y="785.1" font-size="18.8" text-anchor="middle" fill="#000">0</text>
<text x="453.9" y="785.1" font-size="18.8" text-anchor="middle" fill="#000">2</text>
<text x="505.9" y="785.1" font-size="18.8" text-anchor="middle" fill="#000">4</text>
<text x="557.9" y="785.1" font-size="18.8" text-anchor="middle" fill="#000">6</text>
<text x="609.9" y="785.1" font-size="18.8" text-anchor="middle" fill="#000">8</text>
<text x="661.9" y="785.1" font-size="18.8" text-anchor="middle" fill="#000">10</text>
<text x="391.8" y="772.1" font-size="19.3" text-anchor="end" fill="#000">-2.0</text>
<text x="391.8" y="733.3" font-size="19.3" text-anchor="end" fill="#000">-1.5</text>
<text x="391.8" y="694.5" font-size="19.3" text-anchor="end" fill="#000">-1.0</text>
<text x="391.8" y="655.7" font-size="19.3" text-anchor="end" fill="#000">-0.5</text>
<text x="391.8" y="616.9" font-size="19.3" text-anchor="end" fill="#000">0.0</text>
<text x="391.8" y="578.1" font-size="19.3" text-anchor="end" fill="#000">0.5</text>
<text x="353.2" y="676" font-size="19.6" text-anchor="middle" fill="#000" transform="rotate(-90 353.2 676)">Constriction energy (eV/nm)</text>
<text x="533.2" y="803" font-size="18.7" text-anchor="middle" fill="#000">Solute concentration (at.%)</text>
<text x="418.6" y="601.6" font-size="30.5" text-anchor="start" fill="#000">(f)</text>
<path d="M515.3 639.6H532.8M540.8 639.6H559.3" fill="none" stroke="#000" stroke-width="2.4" stroke-dasharray="10 4.5 1.6 4.5" stroke-linecap="butt"/>
<rect x="534.3" y="637.1" width="5" height="5" fill="#fff" stroke="#000" stroke-width="1.6"/>
<rect x="536.1" y="638.9" width="1.4" height="1.4" fill="#000"/>
<text x="563.9" y="645.9" font-size="18.2" text-anchor="start" fill="#000">Mg-Y</text>
<path d="M515.3 662.3H532.4M541.2 662.3H559.3" fill="none" stroke="#ff0000" stroke-width="2.4" stroke-dasharray="10 4.5 1.6 4.5" stroke-linecap="butt"/>
<circle cx="536.8" cy="662.3" r="2.9" fill="#fff" stroke="#ff0000" stroke-width="1.6"/>
<rect x="536.1" y="661.6" width="1.4" height="1.4" fill="#ff0000"/>
<text x="563.9" y="668.6" font-size="18.2" text-anchor="start" fill="#000">Mg-Zn</text>
<path d="M515.3 685H532.6M541 685H559.3" fill="none" stroke="#0000ff" stroke-width="2.4" stroke-dasharray="0 3.2" stroke-linecap="round"/>
<polygon points="536.8,682.3 533.55,687.7 540.05,687.7" fill="#fff" stroke="#0000ff" stroke-width="1.6"/>
<rect x="536.1" y="684.3" width="1.4" height="1.4" fill="#0000ff"/>
<text x="563.9" y="691.3" font-size="18.2" text-anchor="start" fill="#000">Mg-Al</text>
<path d="M515.3 707.7H532.6M541 707.7H559.3" fill="none" stroke="#ff00ff" stroke-width="2.4" stroke-dasharray="6 3" stroke-linecap="butt"/>
<polygon points="536.8,710.4 533.55,705 540.05,705" fill="#fff" stroke="#ff00ff" stroke-width="1.6"/>
<rect x="536.1" y="707" width="1.4" height="1.4" fill="#ff00ff"/>
<text x="563.9" y="714" font-size="18.2" text-anchor="start" fill="#000">Mg-Li</text>
</svg></body></html>
